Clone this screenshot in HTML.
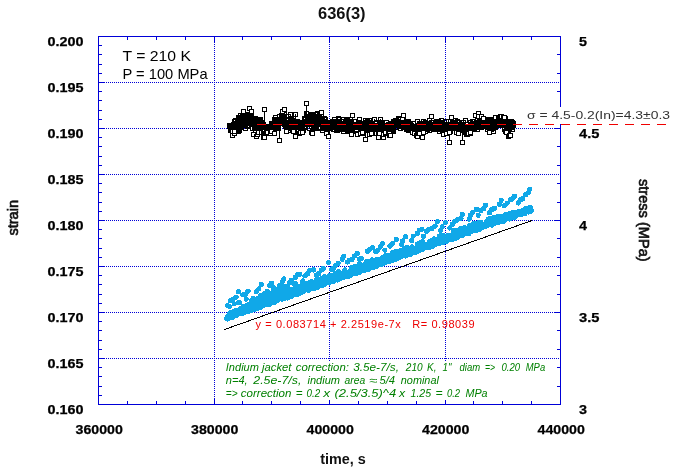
<!DOCTYPE html>
<html><head><meta charset="utf-8"><title>636(3)</title>
<style>html,body{margin:0;padding:0;background:#fff}svg{display:block}text{font-family:"Liberation Sans",sans-serif}.b{font-weight:bold;font-size:13px;fill:#000;stroke:#000;stroke-width:0.25px}</style></head><body>
<svg width="681" height="472" viewBox="0 0 681 472">
<rect width="681" height="472" fill="#fff"/>
<g stroke="#0000d8" stroke-width="1" shape-rendering="crispEdges" fill="none">
<line x1="98" y1="358.5" x2="560" y2="358.5" stroke-dasharray="1 1"/>
<line x1="98" y1="312.5" x2="560" y2="312.5" stroke-dasharray="1 1"/>
<line x1="98" y1="266.5" x2="560" y2="266.5" stroke-dasharray="1 1"/>
<line x1="98" y1="220.5" x2="560" y2="220.5" stroke-dasharray="1 1"/>
<line x1="98" y1="174.5" x2="560" y2="174.5" stroke-dasharray="1 1"/>
<line x1="98" y1="128.5" x2="560" y2="128.5" stroke-dasharray="1 1"/>
<line x1="98" y1="82.5" x2="560" y2="82.5" stroke-dasharray="1 1"/>
<line x1="214.5" y1="36" x2="214.5" y2="404" stroke-dasharray="1 1"/>
<line x1="329.5" y1="36" x2="329.5" y2="404" stroke-dasharray="1 1"/>
<line x1="445.5" y1="36" x2="445.5" y2="404" stroke-dasharray="1 1"/>
<rect x="98.5" y="36.5" width="462" height="368"/>
<line x1="127.5" y1="36" x2="127.5" y2="40"/><line x1="127.5" y1="405" x2="127.5" y2="401"/>
<line x1="156.5" y1="36" x2="156.5" y2="40"/><line x1="156.5" y1="405" x2="156.5" y2="401"/>
<line x1="185.5" y1="36" x2="185.5" y2="40"/><line x1="185.5" y1="405" x2="185.5" y2="401"/>
<line x1="214.5" y1="36" x2="214.5" y2="43"/><line x1="214.5" y1="405" x2="214.5" y2="398"/>
<line x1="242.5" y1="36" x2="242.5" y2="40"/><line x1="242.5" y1="405" x2="242.5" y2="401"/>
<line x1="271.5" y1="36" x2="271.5" y2="40"/><line x1="271.5" y1="405" x2="271.5" y2="401"/>
<line x1="300.5" y1="36" x2="300.5" y2="40"/><line x1="300.5" y1="405" x2="300.5" y2="401"/>
<line x1="329.5" y1="36" x2="329.5" y2="43"/><line x1="329.5" y1="405" x2="329.5" y2="398"/>
<line x1="358.5" y1="36" x2="358.5" y2="40"/><line x1="358.5" y1="405" x2="358.5" y2="401"/>
<line x1="387.5" y1="36" x2="387.5" y2="40"/><line x1="387.5" y1="405" x2="387.5" y2="401"/>
<line x1="416.5" y1="36" x2="416.5" y2="40"/><line x1="416.5" y1="405" x2="416.5" y2="401"/>
<line x1="445.5" y1="36" x2="445.5" y2="43"/><line x1="445.5" y1="405" x2="445.5" y2="398"/>
<line x1="473.5" y1="36" x2="473.5" y2="40"/><line x1="473.5" y1="405" x2="473.5" y2="401"/>
<line x1="502.5" y1="36" x2="502.5" y2="40"/><line x1="502.5" y1="405" x2="502.5" y2="401"/>
<line x1="531.5" y1="36" x2="531.5" y2="40"/><line x1="531.5" y1="405" x2="531.5" y2="401"/>
<line x1="98" y1="395.5" x2="102" y2="395.5"/>
<line x1="98" y1="386.5" x2="102" y2="386.5"/>
<line x1="98" y1="376.5" x2="102" y2="376.5"/>
<line x1="98" y1="367.5" x2="102" y2="367.5"/>
<line x1="98" y1="358.5" x2="105" y2="358.5"/>
<line x1="98" y1="349.5" x2="102" y2="349.5"/>
<line x1="98" y1="340.5" x2="102" y2="340.5"/>
<line x1="98" y1="330.5" x2="102" y2="330.5"/>
<line x1="98" y1="321.5" x2="102" y2="321.5"/>
<line x1="98" y1="312.5" x2="105" y2="312.5"/>
<line x1="98" y1="303.5" x2="102" y2="303.5"/>
<line x1="98" y1="294.5" x2="102" y2="294.5"/>
<line x1="98" y1="284.5" x2="102" y2="284.5"/>
<line x1="98" y1="275.5" x2="102" y2="275.5"/>
<line x1="98" y1="266.5" x2="105" y2="266.5"/>
<line x1="98" y1="257.5" x2="102" y2="257.5"/>
<line x1="98" y1="248.5" x2="102" y2="248.5"/>
<line x1="98" y1="238.5" x2="102" y2="238.5"/>
<line x1="98" y1="229.5" x2="102" y2="229.5"/>
<line x1="98" y1="220.5" x2="105" y2="220.5"/>
<line x1="98" y1="211.5" x2="102" y2="211.5"/>
<line x1="98" y1="202.5" x2="102" y2="202.5"/>
<line x1="98" y1="192.5" x2="102" y2="192.5"/>
<line x1="98" y1="183.5" x2="102" y2="183.5"/>
<line x1="98" y1="174.5" x2="105" y2="174.5"/>
<line x1="98" y1="165.5" x2="102" y2="165.5"/>
<line x1="98" y1="156.5" x2="102" y2="156.5"/>
<line x1="98" y1="146.5" x2="102" y2="146.5"/>
<line x1="98" y1="137.5" x2="102" y2="137.5"/>
<line x1="98" y1="128.5" x2="105" y2="128.5"/>
<line x1="98" y1="119.5" x2="102" y2="119.5"/>
<line x1="98" y1="110.5" x2="102" y2="110.5"/>
<line x1="98" y1="100.5" x2="102" y2="100.5"/>
<line x1="98" y1="91.5" x2="102" y2="91.5"/>
<line x1="98" y1="82.5" x2="105" y2="82.5"/>
<line x1="98" y1="73.5" x2="102" y2="73.5"/>
<line x1="98" y1="64.5" x2="102" y2="64.5"/>
<line x1="98" y1="54.5" x2="102" y2="54.5"/>
<line x1="98" y1="45.5" x2="102" y2="45.5"/>
<line x1="561" y1="386.5" x2="557" y2="386.5"/>
<line x1="561" y1="367.5" x2="557" y2="367.5"/>
<line x1="561" y1="349.5" x2="557" y2="349.5"/>
<line x1="561" y1="330.5" x2="557" y2="330.5"/>
<line x1="561" y1="312.5" x2="554" y2="312.5"/>
<line x1="561" y1="294.5" x2="557" y2="294.5"/>
<line x1="561" y1="275.5" x2="557" y2="275.5"/>
<line x1="561" y1="257.5" x2="557" y2="257.5"/>
<line x1="561" y1="238.5" x2="557" y2="238.5"/>
<line x1="561" y1="220.5" x2="554" y2="220.5"/>
<line x1="561" y1="202.5" x2="557" y2="202.5"/>
<line x1="561" y1="183.5" x2="557" y2="183.5"/>
<line x1="561" y1="165.5" x2="557" y2="165.5"/>
<line x1="561" y1="146.5" x2="557" y2="146.5"/>
<line x1="561" y1="128.5" x2="554" y2="128.5"/>
<line x1="561" y1="110.5" x2="557" y2="110.5"/>
<line x1="561" y1="91.5" x2="557" y2="91.5"/>
<line x1="561" y1="73.5" x2="557" y2="73.5"/>
<line x1="561" y1="54.5" x2="557" y2="54.5"/>
</g>
<g fill="#10a8e8" shape-rendering="crispEdges">
<circle cx="226.7" cy="318.8" r="2.6"/><circle cx="227.3" cy="319.0" r="2.6"/><circle cx="227.6" cy="317.4" r="2.6"/><circle cx="227.7" cy="316.6" r="2.6"/><circle cx="228.0" cy="316.9" r="2.6"/><circle cx="228.4" cy="318.4" r="2.6"/><circle cx="229.0" cy="314.6" r="2.6"/><circle cx="229.2" cy="317.5" r="2.6"/><circle cx="229.9" cy="313.6" r="2.6"/><circle cx="230.3" cy="316.3" r="2.6"/><circle cx="230.9" cy="317.8" r="2.6"/><circle cx="231.2" cy="316.5" r="2.6"/><circle cx="231.2" cy="317.4" r="2.6"/><circle cx="231.6" cy="313.7" r="2.6"/><circle cx="231.9" cy="314.8" r="2.6"/><circle cx="232.6" cy="315.6" r="2.6"/><circle cx="232.9" cy="317.0" r="2.6"/><circle cx="233.0" cy="316.3" r="2.6"/><circle cx="233.8" cy="314.9" r="2.6"/><circle cx="233.9" cy="314.0" r="2.6"/><circle cx="234.4" cy="315.3" r="2.6"/><circle cx="235.0" cy="313.1" r="2.6"/><circle cx="235.0" cy="313.7" r="2.6"/><circle cx="235.6" cy="312.0" r="2.6"/><circle cx="236.1" cy="314.8" r="2.6"/><circle cx="236.6" cy="315.4" r="2.6"/><circle cx="236.7" cy="312.2" r="2.6"/><circle cx="236.9" cy="313.5" r="2.6"/><circle cx="237.2" cy="312.5" r="2.6"/><circle cx="238.0" cy="312.6" r="2.6"/><circle cx="238.5" cy="313.8" r="2.6"/><circle cx="238.7" cy="312.3" r="2.6"/><circle cx="239.0" cy="312.9" r="2.6"/><circle cx="239.6" cy="310.2" r="2.6"/><circle cx="239.7" cy="311.6" r="2.6"/><circle cx="239.9" cy="311.3" r="2.6"/><circle cx="240.6" cy="309.6" r="2.6"/><circle cx="241.1" cy="313.0" r="2.6"/><circle cx="241.2" cy="311.0" r="2.6"/><circle cx="241.4" cy="312.0" r="2.6"/><circle cx="241.8" cy="313.6" r="2.6"/><circle cx="242.2" cy="310.2" r="2.6"/><circle cx="242.6" cy="312.7" r="2.6"/><circle cx="243.1" cy="309.3" r="2.6"/><circle cx="243.3" cy="311.4" r="2.6"/><circle cx="244.0" cy="309.0" r="2.6"/><circle cx="244.5" cy="308.9" r="2.6"/><circle cx="244.6" cy="311.1" r="2.6"/><circle cx="245.0" cy="308.6" r="2.6"/><circle cx="245.7" cy="312.0" r="2.6"/><circle cx="245.7" cy="311.6" r="2.6"/><circle cx="246.1" cy="310.2" r="2.6"/><circle cx="246.7" cy="311.1" r="2.6"/><circle cx="246.7" cy="310.3" r="2.6"/><circle cx="247.3" cy="309.4" r="2.6"/><circle cx="248.0" cy="308.5" r="2.6"/><circle cx="248.2" cy="308.8" r="2.6"/><circle cx="248.6" cy="311.5" r="2.6"/><circle cx="249.1" cy="307.7" r="2.6"/><circle cx="249.5" cy="307.4" r="2.6"/><circle cx="249.6" cy="309.4" r="2.6"/><circle cx="249.8" cy="308.2" r="2.6"/><circle cx="250.2" cy="310.9" r="2.6"/><circle cx="250.6" cy="310.2" r="2.6"/><circle cx="251.1" cy="310.6" r="2.6"/><circle cx="251.3" cy="310.1" r="2.6"/><circle cx="251.7" cy="308.8" r="2.6"/><circle cx="252.0" cy="306.2" r="2.6"/><circle cx="252.8" cy="309.5" r="2.6"/><circle cx="252.9" cy="308.5" r="2.6"/><circle cx="253.4" cy="309.4" r="2.6"/><circle cx="254.1" cy="304.9" r="2.6"/><circle cx="254.2" cy="307.3" r="2.6"/><circle cx="254.4" cy="309.2" r="2.6"/><circle cx="254.9" cy="308.2" r="2.6"/><circle cx="255.6" cy="308.5" r="2.6"/><circle cx="255.5" cy="304.6" r="2.6"/><circle cx="256.2" cy="308.3" r="2.6"/><circle cx="256.6" cy="308.8" r="2.6"/><circle cx="256.9" cy="303.9" r="2.6"/><circle cx="257.5" cy="305.1" r="2.6"/><circle cx="257.5" cy="306.8" r="2.6"/><circle cx="257.9" cy="304.6" r="2.6"/><circle cx="258.5" cy="304.4" r="2.6"/><circle cx="258.7" cy="307.1" r="2.6"/><circle cx="259.4" cy="303.0" r="2.6"/><circle cx="259.8" cy="303.8" r="2.6"/><circle cx="260.1" cy="304.0" r="2.6"/><circle cx="260.2" cy="305.1" r="2.6"/><circle cx="260.6" cy="307.3" r="2.6"/><circle cx="260.8" cy="306.0" r="2.6"/><circle cx="261.3" cy="303.8" r="2.6"/><circle cx="262.1" cy="304.7" r="2.6"/><circle cx="262.5" cy="301.9" r="2.6"/><circle cx="262.9" cy="304.9" r="2.6"/><circle cx="262.8" cy="305.6" r="2.6"/><circle cx="263.2" cy="305.6" r="2.6"/><circle cx="263.8" cy="301.9" r="2.6"/><circle cx="264.4" cy="303.8" r="2.6"/><circle cx="264.6" cy="302.1" r="2.6"/><circle cx="264.7" cy="302.8" r="2.6"/><circle cx="265.5" cy="301.8" r="2.6"/><circle cx="265.8" cy="303.3" r="2.6"/><circle cx="265.9" cy="301.7" r="2.6"/><circle cx="266.3" cy="301.5" r="2.6"/><circle cx="267.1" cy="303.2" r="2.6"/><circle cx="267.1" cy="300.5" r="2.6"/><circle cx="267.7" cy="304.1" r="2.6"/><circle cx="267.7" cy="304.2" r="2.6"/><circle cx="268.6" cy="300.6" r="2.6"/><circle cx="268.5" cy="300.6" r="2.6"/><circle cx="269.4" cy="301.1" r="2.6"/><circle cx="269.4" cy="301.6" r="2.6"/><circle cx="269.6" cy="304.2" r="2.6"/><circle cx="270.5" cy="300.7" r="2.6"/><circle cx="270.6" cy="299.3" r="2.6"/><circle cx="271.0" cy="299.5" r="2.6"/><circle cx="271.6" cy="302.6" r="2.6"/><circle cx="271.6" cy="302.1" r="2.6"/><circle cx="272.0" cy="300.5" r="2.6"/><circle cx="272.4" cy="301.2" r="2.6"/><circle cx="272.7" cy="298.7" r="2.6"/><circle cx="273.2" cy="300.7" r="2.6"/><circle cx="273.7" cy="298.3" r="2.6"/><circle cx="274.0" cy="298.2" r="2.6"/><circle cx="274.4" cy="299.9" r="2.6"/><circle cx="274.8" cy="302.4" r="2.6"/><circle cx="275.2" cy="301.4" r="2.6"/><circle cx="275.3" cy="298.3" r="2.6"/><circle cx="275.8" cy="299.8" r="2.6"/><circle cx="276.5" cy="299.1" r="2.6"/><circle cx="276.6" cy="299.2" r="2.6"/><circle cx="277.1" cy="297.7" r="2.6"/><circle cx="277.3" cy="298.8" r="2.6"/><circle cx="277.7" cy="300.1" r="2.6"/><circle cx="278.4" cy="298.7" r="2.6"/><circle cx="278.7" cy="297.3" r="2.6"/><circle cx="279.3" cy="298.7" r="2.6"/><circle cx="279.5" cy="298.3" r="2.6"/><circle cx="279.8" cy="297.2" r="2.6"/><circle cx="280.1" cy="297.9" r="2.6"/><circle cx="280.5" cy="295.7" r="2.6"/><circle cx="281.0" cy="295.9" r="2.6"/><circle cx="281.6" cy="298.8" r="2.6"/><circle cx="281.7" cy="295.3" r="2.6"/><circle cx="282.3" cy="299.1" r="2.6"/><circle cx="282.2" cy="297.6" r="2.6"/><circle cx="282.6" cy="298.5" r="2.6"/><circle cx="282.9" cy="296.2" r="2.6"/><circle cx="283.8" cy="294.8" r="2.6"/><circle cx="283.8" cy="295.7" r="2.6"/><circle cx="284.4" cy="298.3" r="2.6"/><circle cx="285.0" cy="294.0" r="2.6"/><circle cx="284.9" cy="294.1" r="2.6"/><circle cx="285.4" cy="296.3" r="2.6"/><circle cx="286.2" cy="294.3" r="2.6"/><circle cx="286.0" cy="296.3" r="2.6"/><circle cx="286.6" cy="296.6" r="2.6"/><circle cx="286.8" cy="296.6" r="2.6"/><circle cx="287.5" cy="297.9" r="2.6"/><circle cx="287.8" cy="295.7" r="2.6"/><circle cx="287.9" cy="296.2" r="2.6"/><circle cx="288.6" cy="295.0" r="2.6"/><circle cx="288.7" cy="292.6" r="2.6"/><circle cx="289.5" cy="292.4" r="2.6"/><circle cx="289.4" cy="296.0" r="2.6"/><circle cx="289.8" cy="293.3" r="2.6"/><circle cx="290.3" cy="296.3" r="2.6"/><circle cx="290.8" cy="292.2" r="2.6"/><circle cx="291.4" cy="295.3" r="2.6"/><circle cx="291.4" cy="292.0" r="2.6"/><circle cx="292.0" cy="292.9" r="2.6"/><circle cx="292.1" cy="296.0" r="2.6"/><circle cx="292.8" cy="293.9" r="2.6"/><circle cx="292.9" cy="291.4" r="2.6"/><circle cx="293.6" cy="291.8" r="2.6"/><circle cx="293.6" cy="291.5" r="2.6"/><circle cx="294.0" cy="291.4" r="2.6"/><circle cx="294.6" cy="293.8" r="2.6"/><circle cx="295.0" cy="290.7" r="2.6"/><circle cx="295.3" cy="294.6" r="2.6"/><circle cx="295.8" cy="293.8" r="2.6"/><circle cx="295.9" cy="294.2" r="2.6"/><circle cx="296.3" cy="293.9" r="2.6"/><circle cx="296.8" cy="293.1" r="2.6"/><circle cx="297.5" cy="293.0" r="2.6"/><circle cx="297.7" cy="293.5" r="2.6"/><circle cx="298.0" cy="294.2" r="2.6"/><circle cx="298.3" cy="294.1" r="2.6"/><circle cx="299.0" cy="291.1" r="2.6"/><circle cx="299.0" cy="291.5" r="2.6"/><circle cx="299.9" cy="293.1" r="2.6"/><circle cx="300.2" cy="291.3" r="2.6"/><circle cx="300.3" cy="289.2" r="2.6"/><circle cx="300.7" cy="290.8" r="2.6"/><circle cx="301.2" cy="288.2" r="2.6"/><circle cx="301.4" cy="288.9" r="2.6"/><circle cx="302.0" cy="289.6" r="2.6"/><circle cx="302.2" cy="291.0" r="2.6"/><circle cx="302.4" cy="292.0" r="2.6"/><circle cx="302.8" cy="288.9" r="2.6"/><circle cx="303.3" cy="291.6" r="2.6"/><circle cx="303.5" cy="288.1" r="2.6"/><circle cx="304.4" cy="288.6" r="2.6"/><circle cx="304.4" cy="290.8" r="2.6"/><circle cx="304.8" cy="289.5" r="2.6"/><circle cx="305.1" cy="289.5" r="2.6"/><circle cx="305.5" cy="286.8" r="2.6"/><circle cx="306.4" cy="288.6" r="2.6"/><circle cx="306.3" cy="286.5" r="2.6"/><circle cx="306.7" cy="289.4" r="2.6"/><circle cx="306.9" cy="289.2" r="2.6"/><circle cx="307.6" cy="288.3" r="2.6"/><circle cx="307.8" cy="288.3" r="2.6"/><circle cx="308.1" cy="289.4" r="2.6"/><circle cx="308.5" cy="288.5" r="2.6"/><circle cx="308.8" cy="290.3" r="2.6"/><circle cx="309.4" cy="289.0" r="2.6"/><circle cx="309.9" cy="287.4" r="2.6"/><circle cx="310.4" cy="286.6" r="2.6"/><circle cx="310.8" cy="285.3" r="2.6"/><circle cx="311.0" cy="288.0" r="2.6"/><circle cx="311.7" cy="288.6" r="2.6"/><circle cx="311.9" cy="286.1" r="2.6"/><circle cx="311.9" cy="285.1" r="2.6"/><circle cx="312.8" cy="285.9" r="2.6"/><circle cx="313.1" cy="284.8" r="2.6"/><circle cx="313.1" cy="286.3" r="2.6"/><circle cx="313.7" cy="284.5" r="2.6"/><circle cx="314.3" cy="284.4" r="2.6"/><circle cx="314.5" cy="283.9" r="2.6"/><circle cx="314.9" cy="284.8" r="2.6"/><circle cx="315.1" cy="288.0" r="2.6"/><circle cx="315.4" cy="286.3" r="2.6"/><circle cx="315.7" cy="283.8" r="2.6"/><circle cx="316.4" cy="284.6" r="2.6"/><circle cx="316.8" cy="284.2" r="2.6"/><circle cx="317.1" cy="287.5" r="2.6"/><circle cx="317.7" cy="283.5" r="2.6"/><circle cx="317.9" cy="284.5" r="2.6"/><circle cx="318.4" cy="286.7" r="2.6"/><circle cx="318.8" cy="285.6" r="2.6"/><circle cx="318.8" cy="285.6" r="2.6"/><circle cx="319.5" cy="285.6" r="2.6"/><circle cx="319.9" cy="281.6" r="2.6"/><circle cx="320.2" cy="284.5" r="2.6"/><circle cx="320.5" cy="282.8" r="2.6"/><circle cx="321.1" cy="283.0" r="2.6"/><circle cx="321.4" cy="285.6" r="2.6"/><circle cx="321.5" cy="284.7" r="2.6"/><circle cx="322.2" cy="284.1" r="2.6"/><circle cx="322.5" cy="285.5" r="2.6"/><circle cx="322.6" cy="284.2" r="2.6"/><circle cx="323.3" cy="281.8" r="2.6"/><circle cx="323.7" cy="283.7" r="2.6"/><circle cx="324.0" cy="282.7" r="2.6"/><circle cx="324.3" cy="284.3" r="2.6"/><circle cx="325.0" cy="283.7" r="2.6"/><circle cx="325.4" cy="279.8" r="2.6"/><circle cx="325.2" cy="282.3" r="2.6"/><circle cx="326.1" cy="279.5" r="2.6"/><circle cx="326.2" cy="282.9" r="2.6"/><circle cx="326.5" cy="279.4" r="2.6"/><circle cx="326.9" cy="281.1" r="2.6"/><circle cx="327.2" cy="281.3" r="2.6"/><circle cx="328.1" cy="282.9" r="2.6"/><circle cx="328.4" cy="280.9" r="2.6"/><circle cx="328.8" cy="279.8" r="2.6"/><circle cx="328.8" cy="278.8" r="2.6"/><circle cx="329.3" cy="283.0" r="2.6"/><circle cx="329.4" cy="280.7" r="2.6"/><circle cx="330.0" cy="281.4" r="2.6"/><circle cx="330.2" cy="281.1" r="2.6"/><circle cx="330.7" cy="278.4" r="2.6"/><circle cx="330.9" cy="278.8" r="2.6"/><circle cx="331.8" cy="281.7" r="2.6"/><circle cx="332.2" cy="278.5" r="2.6"/><circle cx="332.6" cy="280.5" r="2.6"/><circle cx="332.7" cy="280.0" r="2.6"/><circle cx="333.4" cy="278.7" r="2.6"/><circle cx="333.4" cy="279.5" r="2.6"/><circle cx="333.8" cy="281.3" r="2.6"/><circle cx="334.0" cy="277.3" r="2.6"/><circle cx="334.5" cy="276.6" r="2.6"/><circle cx="334.9" cy="279.8" r="2.6"/><circle cx="335.4" cy="280.0" r="2.6"/><circle cx="335.7" cy="276.1" r="2.6"/><circle cx="336.4" cy="276.6" r="2.6"/><circle cx="336.6" cy="276.0" r="2.6"/><circle cx="337.2" cy="277.6" r="2.6"/><circle cx="337.5" cy="280.0" r="2.6"/><circle cx="337.8" cy="277.9" r="2.6"/><circle cx="338.2" cy="276.8" r="2.6"/><circle cx="338.3" cy="279.7" r="2.6"/><circle cx="339.1" cy="279.0" r="2.6"/><circle cx="339.2" cy="277.9" r="2.6"/><circle cx="339.5" cy="275.8" r="2.6"/><circle cx="340.3" cy="278.0" r="2.6"/><circle cx="340.5" cy="277.7" r="2.6"/><circle cx="340.8" cy="277.1" r="2.6"/><circle cx="340.9" cy="278.2" r="2.6"/><circle cx="341.3" cy="274.4" r="2.6"/><circle cx="341.9" cy="277.6" r="2.6"/><circle cx="342.5" cy="273.5" r="2.6"/><circle cx="342.6" cy="277.7" r="2.6"/><circle cx="342.9" cy="277.9" r="2.6"/><circle cx="343.3" cy="277.7" r="2.6"/><circle cx="343.6" cy="276.8" r="2.6"/><circle cx="344.2" cy="273.4" r="2.6"/><circle cx="344.7" cy="275.6" r="2.6"/><circle cx="344.9" cy="275.0" r="2.6"/><circle cx="345.2" cy="275.8" r="2.6"/><circle cx="345.4" cy="276.0" r="2.6"/><circle cx="346.4" cy="276.5" r="2.6"/><circle cx="346.5" cy="273.9" r="2.6"/><circle cx="347.1" cy="275.8" r="2.6"/><circle cx="347.1" cy="275.6" r="2.6"/><circle cx="347.5" cy="274.5" r="2.6"/><circle cx="348.3" cy="272.2" r="2.6"/><circle cx="348.6" cy="276.2" r="2.6"/><circle cx="348.5" cy="272.8" r="2.6"/><circle cx="349.4" cy="273.7" r="2.6"/><circle cx="349.6" cy="276.0" r="2.6"/><circle cx="349.8" cy="271.2" r="2.6"/><circle cx="350.5" cy="271.4" r="2.6"/><circle cx="350.9" cy="274.2" r="2.6"/><circle cx="350.8" cy="274.8" r="2.6"/><circle cx="351.4" cy="271.9" r="2.6"/><circle cx="352.1" cy="271.5" r="2.6"/><circle cx="352.3" cy="271.2" r="2.6"/><circle cx="352.5" cy="272.2" r="2.6"/><circle cx="352.7" cy="271.0" r="2.6"/><circle cx="353.2" cy="270.1" r="2.6"/><circle cx="353.8" cy="273.0" r="2.6"/><circle cx="353.9" cy="273.2" r="2.6"/><circle cx="354.6" cy="270.7" r="2.6"/><circle cx="354.6" cy="273.8" r="2.6"/><circle cx="355.2" cy="271.0" r="2.6"/><circle cx="355.5" cy="272.7" r="2.6"/><circle cx="356.1" cy="273.6" r="2.6"/><circle cx="356.3" cy="271.3" r="2.6"/><circle cx="357.0" cy="270.1" r="2.6"/><circle cx="357.4" cy="270.8" r="2.6"/><circle cx="357.4" cy="272.0" r="2.6"/><circle cx="358.2" cy="269.4" r="2.6"/><circle cx="358.2" cy="272.8" r="2.6"/><circle cx="358.7" cy="269.4" r="2.6"/><circle cx="359.0" cy="271.3" r="2.6"/><circle cx="359.5" cy="267.8" r="2.6"/><circle cx="359.6" cy="272.2" r="2.6"/><circle cx="360.1" cy="270.1" r="2.6"/><circle cx="360.7" cy="271.0" r="2.6"/><circle cx="361.1" cy="268.2" r="2.6"/><circle cx="361.3" cy="270.8" r="2.6"/><circle cx="362.0" cy="270.0" r="2.6"/><circle cx="362.3" cy="270.3" r="2.6"/><circle cx="362.3" cy="267.6" r="2.6"/><circle cx="362.7" cy="266.5" r="2.6"/><circle cx="363.2" cy="270.2" r="2.6"/><circle cx="363.4" cy="269.0" r="2.6"/><circle cx="364.1" cy="266.1" r="2.6"/><circle cx="364.2" cy="268.8" r="2.6"/><circle cx="364.6" cy="265.8" r="2.6"/><circle cx="364.9" cy="270.3" r="2.6"/><circle cx="365.3" cy="268.4" r="2.6"/><circle cx="366.1" cy="265.7" r="2.6"/><circle cx="366.4" cy="265.0" r="2.6"/><circle cx="366.9" cy="268.2" r="2.6"/><circle cx="366.9" cy="265.2" r="2.6"/><circle cx="367.6" cy="269.4" r="2.6"/><circle cx="367.9" cy="267.6" r="2.6"/><circle cx="368.1" cy="267.7" r="2.6"/><circle cx="368.4" cy="269.3" r="2.6"/><circle cx="368.8" cy="267.4" r="2.6"/><circle cx="369.6" cy="268.2" r="2.6"/><circle cx="370.0" cy="267.7" r="2.6"/><circle cx="370.0" cy="264.6" r="2.6"/><circle cx="370.7" cy="266.3" r="2.6"/><circle cx="370.6" cy="266.1" r="2.6"/><circle cx="371.2" cy="263.7" r="2.6"/><circle cx="371.4" cy="266.4" r="2.6"/><circle cx="372.2" cy="267.8" r="2.6"/><circle cx="372.3" cy="263.8" r="2.6"/><circle cx="372.9" cy="267.5" r="2.6"/><circle cx="372.9" cy="267.4" r="2.6"/><circle cx="373.8" cy="266.1" r="2.6"/><circle cx="374.1" cy="262.8" r="2.6"/><circle cx="374.2" cy="265.9" r="2.6"/><circle cx="374.9" cy="263.9" r="2.6"/><circle cx="374.9" cy="263.4" r="2.6"/><circle cx="375.3" cy="265.5" r="2.6"/><circle cx="375.5" cy="263.0" r="2.6"/><circle cx="376.4" cy="263.3" r="2.6"/><circle cx="376.8" cy="266.2" r="2.6"/><circle cx="376.8" cy="263.9" r="2.6"/><circle cx="377.6" cy="261.3" r="2.6"/><circle cx="377.6" cy="264.8" r="2.6"/><circle cx="378.1" cy="263.4" r="2.6"/><circle cx="378.7" cy="264.7" r="2.6"/><circle cx="379.0" cy="261.8" r="2.6"/><circle cx="379.4" cy="261.5" r="2.6"/><circle cx="379.7" cy="263.7" r="2.6"/><circle cx="379.9" cy="263.4" r="2.6"/><circle cx="380.6" cy="264.6" r="2.6"/><circle cx="380.6" cy="261.2" r="2.6"/><circle cx="381.0" cy="264.5" r="2.6"/><circle cx="381.2" cy="262.0" r="2.6"/><circle cx="381.8" cy="259.6" r="2.6"/><circle cx="382.5" cy="259.3" r="2.6"/><circle cx="382.5" cy="263.9" r="2.6"/><circle cx="382.8" cy="261.7" r="2.6"/><circle cx="383.6" cy="261.7" r="2.6"/><circle cx="383.7" cy="261.8" r="2.6"/><circle cx="384.3" cy="260.3" r="2.6"/><circle cx="384.7" cy="259.3" r="2.6"/><circle cx="385.1" cy="262.8" r="2.6"/><circle cx="385.5" cy="261.7" r="2.6"/><circle cx="385.8" cy="261.3" r="2.6"/><circle cx="386.2" cy="262.0" r="2.6"/><circle cx="386.3" cy="261.7" r="2.6"/><circle cx="386.7" cy="258.4" r="2.6"/><circle cx="387.3" cy="261.0" r="2.6"/><circle cx="387.6" cy="257.5" r="2.6"/><circle cx="388.0" cy="261.2" r="2.6"/><circle cx="388.6" cy="258.9" r="2.6"/><circle cx="389.1" cy="261.5" r="2.6"/><circle cx="389.1" cy="257.8" r="2.6"/><circle cx="389.7" cy="257.2" r="2.6"/><circle cx="389.6" cy="260.3" r="2.6"/><circle cx="390.1" cy="260.7" r="2.6"/><circle cx="391.0" cy="258.4" r="2.6"/><circle cx="391.3" cy="259.3" r="2.6"/><circle cx="391.7" cy="258.8" r="2.6"/><circle cx="391.7" cy="257.2" r="2.6"/><circle cx="392.5" cy="260.2" r="2.6"/><circle cx="392.6" cy="257.6" r="2.6"/><circle cx="392.8" cy="258.8" r="2.6"/><circle cx="393.1" cy="259.5" r="2.6"/><circle cx="393.6" cy="257.4" r="2.6"/><circle cx="394.2" cy="259.1" r="2.6"/><circle cx="394.2" cy="258.5" r="2.6"/><circle cx="395.0" cy="258.9" r="2.6"/><circle cx="395.1" cy="258.8" r="2.6"/><circle cx="395.8" cy="256.8" r="2.6"/><circle cx="395.7" cy="259.1" r="2.6"/><circle cx="396.3" cy="256.6" r="2.6"/><circle cx="396.9" cy="258.7" r="2.6"/><circle cx="397.0" cy="255.7" r="2.6"/><circle cx="397.5" cy="257.6" r="2.6"/><circle cx="397.8" cy="254.1" r="2.6"/><circle cx="398.2" cy="255.9" r="2.6"/><circle cx="398.6" cy="256.5" r="2.6"/><circle cx="399.3" cy="253.4" r="2.6"/><circle cx="399.4" cy="257.3" r="2.6"/><circle cx="400.0" cy="257.1" r="2.6"/><circle cx="399.9" cy="253.6" r="2.6"/><circle cx="400.5" cy="253.8" r="2.6"/><circle cx="400.9" cy="253.4" r="2.6"/><circle cx="401.3" cy="256.8" r="2.6"/><circle cx="401.4" cy="254.8" r="2.6"/><circle cx="402.2" cy="252.8" r="2.6"/><circle cx="402.2" cy="254.2" r="2.6"/><circle cx="402.8" cy="254.6" r="2.6"/><circle cx="403.0" cy="255.6" r="2.6"/><circle cx="403.6" cy="252.2" r="2.6"/><circle cx="403.8" cy="254.3" r="2.6"/><circle cx="404.6" cy="251.6" r="2.6"/><circle cx="404.6" cy="255.8" r="2.6"/><circle cx="405.4" cy="251.3" r="2.6"/><circle cx="405.5" cy="255.9" r="2.6"/><circle cx="406.2" cy="254.0" r="2.6"/><circle cx="406.5" cy="252.7" r="2.6"/><circle cx="406.9" cy="254.9" r="2.6"/><circle cx="407.2" cy="254.4" r="2.6"/><circle cx="407.4" cy="251.2" r="2.6"/><circle cx="408.0" cy="254.3" r="2.6"/><circle cx="408.0" cy="253.2" r="2.6"/><circle cx="408.6" cy="253.1" r="2.6"/><circle cx="408.7" cy="253.8" r="2.6"/><circle cx="409.5" cy="250.2" r="2.6"/><circle cx="409.5" cy="251.9" r="2.6"/><circle cx="410.3" cy="254.3" r="2.6"/><circle cx="410.7" cy="253.7" r="2.6"/><circle cx="410.9" cy="251.5" r="2.6"/><circle cx="411.3" cy="252.5" r="2.6"/><circle cx="411.6" cy="251.1" r="2.6"/><circle cx="412.0" cy="250.6" r="2.6"/><circle cx="412.4" cy="251.5" r="2.6"/><circle cx="412.5" cy="250.6" r="2.6"/><circle cx="413.2" cy="252.3" r="2.6"/><circle cx="413.7" cy="249.3" r="2.6"/><circle cx="413.9" cy="252.3" r="2.6"/><circle cx="414.3" cy="252.5" r="2.6"/><circle cx="414.5" cy="250.8" r="2.6"/><circle cx="414.8" cy="250.6" r="2.6"/><circle cx="415.5" cy="252.4" r="2.6"/><circle cx="415.9" cy="252.0" r="2.6"/><circle cx="416.3" cy="248.4" r="2.6"/><circle cx="416.6" cy="251.9" r="2.6"/><circle cx="417.0" cy="250.2" r="2.6"/><circle cx="417.6" cy="251.2" r="2.6"/><circle cx="417.9" cy="246.7" r="2.6"/><circle cx="418.3" cy="247.5" r="2.6"/><circle cx="418.3" cy="246.7" r="2.6"/><circle cx="418.9" cy="246.6" r="2.6"/><circle cx="419.5" cy="250.4" r="2.6"/><circle cx="419.8" cy="246.4" r="2.6"/><circle cx="419.8" cy="249.3" r="2.6"/><circle cx="420.6" cy="250.0" r="2.6"/><circle cx="421.0" cy="249.3" r="2.6"/><circle cx="421.4" cy="249.8" r="2.6"/><circle cx="421.5" cy="245.9" r="2.6"/><circle cx="421.7" cy="249.1" r="2.6"/><circle cx="422.3" cy="248.6" r="2.6"/><circle cx="422.4" cy="249.2" r="2.6"/><circle cx="422.9" cy="245.3" r="2.6"/><circle cx="423.6" cy="245.3" r="2.6"/><circle cx="423.6" cy="245.8" r="2.6"/><circle cx="424.0" cy="246.9" r="2.6"/><circle cx="424.7" cy="247.5" r="2.6"/><circle cx="425.2" cy="246.4" r="2.6"/><circle cx="425.4" cy="244.7" r="2.6"/><circle cx="425.5" cy="244.1" r="2.6"/><circle cx="426.2" cy="246.8" r="2.6"/><circle cx="426.7" cy="247.3" r="2.6"/><circle cx="427.2" cy="245.6" r="2.6"/><circle cx="427.2" cy="244.6" r="2.6"/><circle cx="427.6" cy="247.4" r="2.6"/><circle cx="428.2" cy="247.9" r="2.6"/><circle cx="428.6" cy="246.7" r="2.6"/><circle cx="428.9" cy="242.9" r="2.6"/><circle cx="429.2" cy="244.4" r="2.6"/><circle cx="429.4" cy="247.6" r="2.6"/><circle cx="429.6" cy="246.8" r="2.6"/><circle cx="430.4" cy="245.2" r="2.6"/><circle cx="430.7" cy="242.7" r="2.6"/><circle cx="430.8" cy="246.0" r="2.6"/><circle cx="431.5" cy="246.8" r="2.6"/><circle cx="431.5" cy="245.1" r="2.6"/><circle cx="432.0" cy="245.0" r="2.6"/><circle cx="432.4" cy="243.7" r="2.6"/><circle cx="433.0" cy="245.4" r="2.6"/><circle cx="433.4" cy="243.9" r="2.6"/><circle cx="433.5" cy="241.5" r="2.6"/><circle cx="434.0" cy="245.3" r="2.6"/><circle cx="434.3" cy="242.8" r="2.6"/><circle cx="435.1" cy="241.7" r="2.6"/><circle cx="435.2" cy="244.3" r="2.6"/><circle cx="435.4" cy="242.3" r="2.6"/><circle cx="436.1" cy="243.6" r="2.6"/><circle cx="436.5" cy="242.9" r="2.6"/><circle cx="437.0" cy="241.3" r="2.6"/><circle cx="437.0" cy="240.5" r="2.6"/><circle cx="437.3" cy="242.2" r="2.6"/><circle cx="437.9" cy="243.5" r="2.6"/><circle cx="438.0" cy="240.7" r="2.6"/><circle cx="438.4" cy="241.7" r="2.6"/><circle cx="439.3" cy="243.4" r="2.6"/><circle cx="439.3" cy="241.1" r="2.6"/><circle cx="439.8" cy="240.8" r="2.6"/><circle cx="440.4" cy="242.9" r="2.6"/><circle cx="440.5" cy="242.2" r="2.6"/><circle cx="440.7" cy="239.2" r="2.6"/><circle cx="441.5" cy="239.8" r="2.6"/><circle cx="441.4" cy="239.2" r="2.6"/><circle cx="442.3" cy="240.8" r="2.6"/><circle cx="442.6" cy="240.7" r="2.6"/><circle cx="442.7" cy="242.4" r="2.6"/><circle cx="443.1" cy="242.6" r="2.6"/><circle cx="443.5" cy="238.9" r="2.6"/><circle cx="444.1" cy="238.2" r="2.6"/><circle cx="444.5" cy="241.0" r="2.6"/><circle cx="444.8" cy="240.0" r="2.6"/><circle cx="445.3" cy="239.4" r="2.6"/><circle cx="445.4" cy="238.8" r="2.6"/><circle cx="446.2" cy="240.6" r="2.6"/><circle cx="446.5" cy="241.5" r="2.6"/><circle cx="446.6" cy="240.4" r="2.6"/><circle cx="447.2" cy="236.6" r="2.6"/><circle cx="447.6" cy="239.6" r="2.6"/><circle cx="448.1" cy="239.4" r="2.6"/><circle cx="448.1" cy="236.5" r="2.6"/><circle cx="448.7" cy="237.4" r="2.6"/><circle cx="449.1" cy="235.8" r="2.6"/><circle cx="449.3" cy="236.4" r="2.6"/><circle cx="449.9" cy="236.1" r="2.6"/><circle cx="450.1" cy="236.7" r="2.6"/><circle cx="450.5" cy="238.6" r="2.6"/><circle cx="450.7" cy="237.0" r="2.6"/><circle cx="451.0" cy="235.5" r="2.6"/><circle cx="451.4" cy="239.7" r="2.6"/><circle cx="451.8" cy="235.1" r="2.6"/><circle cx="452.3" cy="238.8" r="2.6"/><circle cx="452.5" cy="239.3" r="2.6"/><circle cx="453.3" cy="236.0" r="2.6"/><circle cx="453.7" cy="235.4" r="2.6"/><circle cx="453.7" cy="236.1" r="2.6"/><circle cx="454.2" cy="234.8" r="2.6"/><circle cx="454.9" cy="234.2" r="2.6"/><circle cx="454.8" cy="234.3" r="2.6"/><circle cx="455.7" cy="233.6" r="2.6"/><circle cx="455.6" cy="237.4" r="2.6"/><circle cx="456.0" cy="238.1" r="2.6"/><circle cx="456.8" cy="233.9" r="2.6"/><circle cx="457.1" cy="233.7" r="2.6"/><circle cx="457.4" cy="236.3" r="2.6"/><circle cx="457.5" cy="237.2" r="2.6"/><circle cx="458.3" cy="236.4" r="2.6"/><circle cx="458.4" cy="235.3" r="2.6"/><circle cx="458.6" cy="236.0" r="2.6"/><circle cx="459.1" cy="233.5" r="2.6"/><circle cx="459.6" cy="235.4" r="2.6"/><circle cx="460.3" cy="234.2" r="2.6"/><circle cx="460.6" cy="233.5" r="2.6"/><circle cx="460.5" cy="234.6" r="2.6"/><circle cx="461.1" cy="232.6" r="2.6"/><circle cx="461.5" cy="232.8" r="2.6"/><circle cx="462.0" cy="235.0" r="2.6"/><circle cx="462.5" cy="235.5" r="2.6"/><circle cx="462.9" cy="234.9" r="2.6"/><circle cx="462.8" cy="234.8" r="2.6"/><circle cx="463.6" cy="230.6" r="2.6"/><circle cx="463.5" cy="233.1" r="2.6"/><circle cx="464.2" cy="231.3" r="2.6"/><circle cx="464.4" cy="232.8" r="2.6"/><circle cx="464.9" cy="230.9" r="2.6"/><circle cx="465.2" cy="230.3" r="2.6"/><circle cx="465.6" cy="233.8" r="2.6"/><circle cx="466.3" cy="232.1" r="2.6"/><circle cx="466.3" cy="231.4" r="2.6"/><circle cx="466.6" cy="230.5" r="2.6"/><circle cx="467.4" cy="230.3" r="2.6"/><circle cx="467.7" cy="232.3" r="2.6"/><circle cx="468.0" cy="232.0" r="2.6"/><circle cx="468.7" cy="233.3" r="2.6"/><circle cx="469.0" cy="233.5" r="2.6"/><circle cx="469.0" cy="232.3" r="2.6"/><circle cx="469.8" cy="230.8" r="2.6"/><circle cx="469.9" cy="228.9" r="2.6"/><circle cx="470.2" cy="230.9" r="2.6"/><circle cx="470.7" cy="229.2" r="2.6"/><circle cx="471.2" cy="229.6" r="2.6"/><circle cx="471.4" cy="231.2" r="2.6"/><circle cx="471.6" cy="228.5" r="2.6"/><circle cx="472.3" cy="228.7" r="2.6"/><circle cx="472.4" cy="230.2" r="2.6"/><circle cx="473.2" cy="229.3" r="2.6"/><circle cx="473.1" cy="229.9" r="2.6"/><circle cx="474.0" cy="230.7" r="2.6"/><circle cx="473.9" cy="230.4" r="2.6"/><circle cx="474.6" cy="227.4" r="2.6"/><circle cx="474.7" cy="230.8" r="2.6"/><circle cx="475.1" cy="229.8" r="2.6"/><circle cx="475.7" cy="230.5" r="2.6"/><circle cx="475.9" cy="230.2" r="2.6"/><circle cx="476.7" cy="227.3" r="2.6"/><circle cx="476.6" cy="226.1" r="2.6"/><circle cx="476.9" cy="228.9" r="2.6"/><circle cx="477.9" cy="226.5" r="2.6"/><circle cx="478.1" cy="228.2" r="2.6"/><circle cx="478.1" cy="227.2" r="2.6"/><circle cx="478.5" cy="229.2" r="2.6"/><circle cx="479.0" cy="229.9" r="2.6"/><circle cx="479.4" cy="226.0" r="2.6"/><circle cx="480.0" cy="227.2" r="2.6"/><circle cx="480.3" cy="227.3" r="2.6"/><circle cx="480.4" cy="226.6" r="2.6"/><circle cx="480.9" cy="225.7" r="2.6"/><circle cx="481.6" cy="227.0" r="2.6"/><circle cx="481.8" cy="225.3" r="2.6"/><circle cx="482.1" cy="227.8" r="2.6"/><circle cx="482.7" cy="224.4" r="2.6"/><circle cx="483.1" cy="225.1" r="2.6"/><circle cx="483.5" cy="225.1" r="2.6"/><circle cx="483.7" cy="226.1" r="2.6"/><circle cx="483.9" cy="225.2" r="2.6"/><circle cx="484.2" cy="226.2" r="2.6"/><circle cx="485.0" cy="224.4" r="2.6"/><circle cx="485.3" cy="226.6" r="2.6"/><circle cx="485.5" cy="225.5" r="2.6"/><circle cx="486.0" cy="225.6" r="2.6"/><circle cx="486.4" cy="222.8" r="2.6"/><circle cx="486.5" cy="224.1" r="2.6"/><circle cx="487.3" cy="225.2" r="2.6"/><circle cx="487.5" cy="222.2" r="2.6"/><circle cx="487.6" cy="224.3" r="2.6"/><circle cx="488.0" cy="223.0" r="2.6"/><circle cx="488.9" cy="224.0" r="2.6"/><circle cx="488.8" cy="223.8" r="2.6"/><circle cx="489.4" cy="222.8" r="2.6"/><circle cx="489.8" cy="223.1" r="2.6"/><circle cx="490.3" cy="223.5" r="2.6"/><circle cx="490.5" cy="221.3" r="2.6"/><circle cx="490.7" cy="222.5" r="2.6"/><circle cx="491.2" cy="221.9" r="2.6"/><circle cx="491.4" cy="220.8" r="2.6"/><circle cx="492.0" cy="225.2" r="2.6"/><circle cx="492.3" cy="223.4" r="2.6"/><circle cx="492.5" cy="223.2" r="2.6"/><circle cx="493.1" cy="221.6" r="2.6"/><circle cx="493.5" cy="223.6" r="2.6"/><circle cx="493.8" cy="221.1" r="2.6"/><circle cx="494.6" cy="221.9" r="2.6"/><circle cx="494.5" cy="220.6" r="2.6"/><circle cx="495.0" cy="223.3" r="2.6"/><circle cx="495.3" cy="220.4" r="2.6"/><circle cx="496.0" cy="220.9" r="2.6"/><circle cx="496.2" cy="221.2" r="2.6"/><circle cx="496.5" cy="219.1" r="2.6"/><circle cx="496.9" cy="220.5" r="2.6"/><circle cx="497.6" cy="219.4" r="2.6"/><circle cx="497.7" cy="222.0" r="2.6"/><circle cx="498.2" cy="222.7" r="2.6"/><circle cx="498.7" cy="221.3" r="2.6"/><circle cx="499.1" cy="221.6" r="2.6"/><circle cx="499.2" cy="221.7" r="2.6"/><circle cx="499.6" cy="221.8" r="2.6"/><circle cx="499.8" cy="219.1" r="2.6"/><circle cx="500.3" cy="221.3" r="2.6"/><circle cx="500.7" cy="220.0" r="2.6"/><circle cx="501.2" cy="219.0" r="2.6"/><circle cx="501.7" cy="220.2" r="2.6"/><circle cx="502.2" cy="217.6" r="2.6"/><circle cx="502.1" cy="217.8" r="2.6"/><circle cx="503.0" cy="217.7" r="2.6"/><circle cx="502.9" cy="217.5" r="2.6"/><circle cx="503.6" cy="221.3" r="2.6"/><circle cx="503.6" cy="216.6" r="2.6"/><circle cx="504.3" cy="219.9" r="2.6"/><circle cx="504.4" cy="220.4" r="2.6"/><circle cx="504.8" cy="217.0" r="2.6"/><circle cx="505.3" cy="220.0" r="2.6"/><circle cx="506.0" cy="216.6" r="2.6"/><circle cx="505.9" cy="216.1" r="2.6"/><circle cx="506.6" cy="216.4" r="2.6"/><circle cx="507.0" cy="215.7" r="2.6"/><circle cx="507.5" cy="215.8" r="2.6"/><circle cx="507.5" cy="216.5" r="2.6"/><circle cx="508.1" cy="216.1" r="2.6"/><circle cx="508.4" cy="215.3" r="2.6"/><circle cx="508.8" cy="218.2" r="2.6"/><circle cx="509.0" cy="218.7" r="2.6"/><circle cx="509.6" cy="219.0" r="2.6"/><circle cx="509.9" cy="218.4" r="2.6"/><circle cx="510.3" cy="216.5" r="2.6"/><circle cx="510.7" cy="214.5" r="2.6"/><circle cx="510.8" cy="214.6" r="2.6"/><circle cx="511.5" cy="215.8" r="2.6"/><circle cx="512.0" cy="214.2" r="2.6"/><circle cx="512.2" cy="216.2" r="2.6"/><circle cx="512.9" cy="217.7" r="2.6"/><circle cx="513.1" cy="214.8" r="2.6"/><circle cx="513.1" cy="214.9" r="2.6"/><circle cx="513.9" cy="213.1" r="2.6"/><circle cx="514.0" cy="212.8" r="2.6"/><circle cx="514.5" cy="215.1" r="2.6"/><circle cx="515.2" cy="217.1" r="2.6"/><circle cx="515.4" cy="214.0" r="2.6"/><circle cx="515.6" cy="212.8" r="2.6"/><circle cx="516.0" cy="214.6" r="2.6"/><circle cx="516.5" cy="213.0" r="2.6"/><circle cx="516.6" cy="214.6" r="2.6"/><circle cx="517.2" cy="213.8" r="2.6"/><circle cx="517.8" cy="214.9" r="2.6"/><circle cx="518.2" cy="214.2" r="2.6"/><circle cx="518.3" cy="214.8" r="2.6"/><circle cx="518.7" cy="211.1" r="2.6"/><circle cx="519.2" cy="211.9" r="2.6"/><circle cx="519.4" cy="214.2" r="2.6"/><circle cx="519.7" cy="212.7" r="2.6"/><circle cx="520.3" cy="211.5" r="2.6"/><circle cx="520.4" cy="211.8" r="2.6"/><circle cx="521.2" cy="212.4" r="2.6"/><circle cx="521.1" cy="213.7" r="2.6"/><circle cx="521.5" cy="214.1" r="2.6"/><circle cx="522.4" cy="211.7" r="2.6"/><circle cx="522.6" cy="210.7" r="2.6"/><circle cx="523.2" cy="211.4" r="2.6"/><circle cx="523.4" cy="211.2" r="2.6"/><circle cx="523.8" cy="211.2" r="2.6"/><circle cx="524.2" cy="213.0" r="2.6"/><circle cx="524.5" cy="211.7" r="2.6"/><circle cx="525.0" cy="213.3" r="2.6"/><circle cx="525.0" cy="213.6" r="2.6"/><circle cx="525.7" cy="208.9" r="2.6"/><circle cx="526.1" cy="211.6" r="2.6"/><circle cx="526.5" cy="209.3" r="2.6"/><circle cx="526.8" cy="211.9" r="2.6"/><circle cx="527.0" cy="211.0" r="2.6"/><circle cx="527.4" cy="210.8" r="2.6"/><circle cx="528.0" cy="208.1" r="2.6"/><circle cx="528.0" cy="209.9" r="2.6"/><circle cx="528.4" cy="212.0" r="2.6"/><circle cx="529.2" cy="209.4" r="2.6"/><circle cx="529.6" cy="209.9" r="2.6"/><circle cx="529.5" cy="210.3" r="2.6"/><circle cx="530.2" cy="207.2" r="2.6"/><circle cx="530.8" cy="209.3" r="2.6"/><circle cx="530.9" cy="211.2" r="2.6"/><circle cx="531.4" cy="210.5" r="2.6"/><circle cx="275.2" cy="297.3" r="2.6"/><circle cx="231.4" cy="312.5" r="2.6"/><circle cx="266.3" cy="297.2" r="2.6"/><circle cx="256.3" cy="301.6" r="2.6"/><circle cx="268.4" cy="299.7" r="2.6"/><circle cx="444.4" cy="236.5" r="2.6"/><circle cx="448.6" cy="235.2" r="2.6"/><circle cx="244.9" cy="306.7" r="2.6"/><circle cx="442.6" cy="235.1" r="2.6"/><circle cx="447.5" cy="236.0" r="2.6"/><circle cx="417.3" cy="244.5" r="2.6"/><circle cx="367.3" cy="261.5" r="2.6"/><circle cx="305.7" cy="283.2" r="2.6"/><circle cx="443.7" cy="237.6" r="2.6"/><circle cx="234.4" cy="311.3" r="2.6"/><circle cx="473.6" cy="226.7" r="2.6"/><circle cx="322.7" cy="278.0" r="2.6"/><circle cx="279.5" cy="292.9" r="2.6"/><circle cx="374.9" cy="261.8" r="2.6"/><circle cx="339.5" cy="272.6" r="2.6"/><circle cx="360.7" cy="264.7" r="2.6"/><circle cx="273.2" cy="295.3" r="2.6"/><circle cx="338.3" cy="272.8" r="2.6"/><circle cx="417.7" cy="245.4" r="2.6"/><circle cx="344.9" cy="269.9" r="2.6"/><circle cx="511.6" cy="213.0" r="2.6"/><circle cx="398.9" cy="252.5" r="2.6"/><circle cx="248.1" cy="304.9" r="2.6"/><circle cx="439.6" cy="236.2" r="2.6"/><circle cx="328.9" cy="276.2" r="2.6"/><circle cx="477.7" cy="223.5" r="2.6"/><circle cx="322.0" cy="279.3" r="2.6"/><circle cx="494.7" cy="218.7" r="2.6"/><circle cx="434.1" cy="239.0" r="2.6"/><circle cx="497.0" cy="216.9" r="2.6"/><circle cx="314.4" cy="283.4" r="2.6"/><circle cx="308.4" cy="284.1" r="2.6"/><circle cx="404.8" cy="248.6" r="2.6"/><circle cx="494.5" cy="219.5" r="2.6"/><circle cx="478.3" cy="222.6" r="2.6"/><circle cx="488.4" cy="220.1" r="2.6"/><circle cx="311.6" cy="281.5" r="2.6"/><circle cx="470.5" cy="225.8" r="2.6"/><circle cx="502.3" cy="216.2" r="2.6"/><circle cx="255.3" cy="302.8" r="2.6"/><circle cx="467.6" cy="228.4" r="2.6"/><circle cx="453.6" cy="230.9" r="2.6"/><circle cx="299.7" cy="286.6" r="2.6"/><circle cx="431.9" cy="240.2" r="2.6"/><circle cx="291.6" cy="290.7" r="2.6"/><circle cx="453.8" cy="231.3" r="2.6"/><circle cx="367.0" cy="264.5" r="2.6"/><circle cx="470.4" cy="225.5" r="2.6"/><circle cx="299.4" cy="286.8" r="2.6"/><circle cx="497.3" cy="216.7" r="2.6"/><circle cx="385.5" cy="256.6" r="2.6"/><circle cx="405.6" cy="250.5" r="2.6"/><circle cx="287.3" cy="292.4" r="2.6"/><circle cx="438.9" cy="238.1" r="2.6"/><circle cx="398.2" cy="252.4" r="2.6"/><circle cx="384.1" cy="258.2" r="2.6"/><circle cx="243.3" cy="307.0" r="2.6"/><circle cx="341.5" cy="273.5" r="2.6"/><circle cx="418.6" cy="243.8" r="2.6"/><circle cx="276.5" cy="294.8" r="2.6"/><circle cx="332.8" cy="275.1" r="2.6"/><circle cx="236.1" cy="311.1" r="2.6"/><circle cx="488.1" cy="220.5" r="2.6"/><circle cx="399.0" cy="252.5" r="2.6"/><circle cx="462.2" cy="229.6" r="2.6"/><circle cx="512.1" cy="212.9" r="2.6"/><circle cx="474.0" cy="223.6" r="2.6"/><circle cx="305.7" cy="286.4" r="2.6"/><circle cx="289.9" cy="291.5" r="2.6"/><circle cx="254.9" cy="304.4" r="2.6"/><circle cx="396.1" cy="251.5" r="2.6"/><circle cx="366.6" cy="261.7" r="2.6"/><circle cx="501.2" cy="217.1" r="2.6"/><circle cx="408.2" cy="248.8" r="2.6"/><circle cx="265.7" cy="297.4" r="2.6"/><circle cx="306.6" cy="284.3" r="2.6"/><circle cx="420.9" cy="242.4" r="2.6"/><circle cx="429.6" cy="241.3" r="2.6"/><circle cx="363.6" cy="265.4" r="2.6"/><circle cx="296.1" cy="289.8" r="2.6"/><circle cx="306.2" cy="285.1" r="2.6"/><circle cx="499.0" cy="216.2" r="2.6"/><circle cx="479.5" cy="224.8" r="2.6"/><circle cx="464.3" cy="227.9" r="2.6"/><circle cx="422.7" cy="241.7" r="2.6"/><circle cx="246.6" cy="307.2" r="2.6"/><circle cx="455.0" cy="230.4" r="2.6"/><circle cx="431.7" cy="240.8" r="2.6"/><circle cx="406.3" cy="248.3" r="2.6"/><circle cx="261.4" cy="301.1" r="2.6"/><circle cx="306.6" cy="285.8" r="2.6"/><circle cx="373.4" cy="261.9" r="2.6"/><circle cx="301.1" cy="287.7" r="2.6"/><circle cx="431.9" cy="241.7" r="2.6"/><circle cx="443.7" cy="236.9" r="2.6"/><circle cx="240.7" cy="308.2" r="2.6"/><circle cx="295.7" cy="286.9" r="2.6"/><circle cx="488.3" cy="219.3" r="2.6"/><circle cx="271.6" cy="297.1" r="2.6"/><circle cx="258.9" cy="300.2" r="2.6"/><circle cx="481.0" cy="222.3" r="2.6"/><circle cx="364.8" cy="264.4" r="2.6"/><circle cx="475.3" cy="224.8" r="2.6"/><circle cx="417.2" cy="246.5" r="2.6"/><circle cx="296.1" cy="289.7" r="2.6"/><circle cx="442.7" cy="236.1" r="2.6"/><circle cx="273.1" cy="295.1" r="2.6"/><circle cx="309.4" cy="283.8" r="2.6"/><circle cx="276.4" cy="296.0" r="2.6"/><circle cx="480.2" cy="223.5" r="2.6"/><circle cx="280.0" cy="294.0" r="2.6"/><circle cx="324.8" cy="276.7" r="2.6"/><circle cx="264.0" cy="298.0" r="2.6"/><circle cx="246.9" cy="305.6" r="2.6"/><circle cx="429.1" cy="242.0" r="2.6"/><circle cx="372.3" cy="261.9" r="2.6"/><circle cx="306.8" cy="285.4" r="2.6"/><circle cx="338.6" cy="271.5" r="2.6"/><circle cx="505.7" cy="215.5" r="2.6"/><circle cx="316.2" cy="279.7" r="2.6"/><circle cx="247.1" cy="305.8" r="2.6"/><circle cx="317.5" cy="279.0" r="2.6"/><circle cx="234.8" cy="311.0" r="2.6"/><circle cx="331.6" cy="276.9" r="2.6"/><circle cx="230.6" cy="312.8" r="2.6"/><circle cx="386.9" cy="257.1" r="2.6"/><circle cx="359.7" cy="264.3" r="2.6"/><circle cx="295.0" cy="288.4" r="2.6"/><circle cx="271.1" cy="298.2" r="2.6"/><circle cx="459.6" cy="229.5" r="2.6"/><circle cx="288.6" cy="292.3" r="2.6"/><circle cx="256.1" cy="302.4" r="2.6"/><circle cx="377.7" cy="260.1" r="2.6"/><circle cx="291.4" cy="289.5" r="2.6"/><circle cx="440.9" cy="235.8" r="2.6"/><circle cx="403.7" cy="251.1" r="2.6"/><circle cx="249.6" cy="304.8" r="2.6"/><circle cx="351.6" cy="267.8" r="2.6"/><circle cx="246.5" cy="305.9" r="2.6"/><circle cx="329.9" cy="275.1" r="2.6"/><circle cx="487.6" cy="220.6" r="2.6"/><circle cx="234.6" cy="311.0" r="2.6"/><circle cx="372.0" cy="260.0" r="2.6"/><circle cx="309.3" cy="284.6" r="2.6"/><circle cx="477.8" cy="224.3" r="2.6"/><circle cx="278.7" cy="294.8" r="2.6"/><circle cx="407.3" cy="250.5" r="2.6"/><circle cx="384.9" cy="256.9" r="2.6"/><circle cx="383.7" cy="258.5" r="2.6"/><circle cx="442.9" cy="235.1" r="2.6"/><circle cx="487.9" cy="221.0" r="2.6"/><circle cx="441.9" cy="236.9" r="2.6"/><circle cx="453.9" cy="233.8" r="2.6"/><circle cx="490.1" cy="218.6" r="2.6"/><circle cx="377.5" cy="259.3" r="2.6"/><circle cx="388.1" cy="255.5" r="2.6"/><circle cx="236.2" cy="310.2" r="2.6"/><circle cx="296.7" cy="289.1" r="2.6"/><circle cx="260.6" cy="301.7" r="2.6"/><circle cx="473.5" cy="226.9" r="2.6"/><circle cx="258.7" cy="301.0" r="2.6"/><circle cx="288.1" cy="292.7" r="2.6"/><circle cx="408.6" cy="248.1" r="2.6"/><circle cx="385.8" cy="255.7" r="2.6"/><circle cx="260.7" cy="299.6" r="2.6"/><circle cx="443.7" cy="237.4" r="2.6"/><circle cx="266.7" cy="298.7" r="2.6"/><circle cx="379.2" cy="259.5" r="2.6"/><circle cx="266.4" cy="299.1" r="2.6"/><circle cx="270.8" cy="296.9" r="2.6"/><circle cx="486.6" cy="222.0" r="2.6"/><circle cx="400.7" cy="250.3" r="2.6"/><circle cx="279.0" cy="293.2" r="2.6"/><circle cx="509.4" cy="213.9" r="2.6"/><circle cx="355.3" cy="266.1" r="2.6"/><circle cx="386.6" cy="256.5" r="2.6"/><circle cx="510.5" cy="213.3" r="2.6"/><circle cx="330.9" cy="276.8" r="2.6"/><circle cx="329.9" cy="276.5" r="2.6"/><circle cx="469.7" cy="225.3" r="2.6"/><circle cx="472.9" cy="224.4" r="2.6"/><circle cx="246.0" cy="306.7" r="2.6"/><circle cx="508.4" cy="214.4" r="2.6"/><circle cx="355.8" cy="266.6" r="2.6"/><circle cx="338.6" cy="273.0" r="2.6"/><circle cx="250.6" cy="305.0" r="2.6"/><circle cx="380.4" cy="260.0" r="2.6"/><circle cx="271.5" cy="295.3" r="2.6"/><circle cx="461.4" cy="228.1" r="2.6"/><circle cx="418.7" cy="243.7" r="2.6"/><circle cx="493.5" cy="217.8" r="2.6"/><circle cx="240.2" cy="308.9" r="2.6"/><circle cx="309.2" cy="283.0" r="2.6"/><circle cx="311.5" cy="282.6" r="2.6"/><circle cx="505.5" cy="214.8" r="2.6"/><circle cx="304.7" cy="285.1" r="2.6"/><circle cx="359.2" cy="264.3" r="2.6"/><circle cx="315.7" cy="281.9" r="2.6"/><circle cx="423.0" cy="244.5" r="2.6"/><circle cx="407.1" cy="247.3" r="2.6"/><circle cx="383.1" cy="258.2" r="2.6"/><circle cx="369.0" cy="262.3" r="2.6"/><circle cx="274.2" cy="297.3" r="2.6"/><circle cx="269.1" cy="298.5" r="2.6"/><circle cx="351.2" cy="269.4" r="2.6"/><circle cx="302.5" cy="287.3" r="2.6"/><circle cx="392.8" cy="252.8" r="2.6"/><circle cx="411.8" cy="247.0" r="2.6"/><circle cx="423.8" cy="244.0" r="2.6"/><circle cx="441.7" cy="236.7" r="2.6"/><circle cx="393.3" cy="253.4" r="2.6"/><circle cx="369.8" cy="262.8" r="2.6"/><circle cx="302.2" cy="287.0" r="2.6"/><circle cx="382.7" cy="257.9" r="2.6"/><circle cx="404.5" cy="251.4" r="2.6"/><circle cx="335.1" cy="273.2" r="2.6"/><circle cx="301.1" cy="286.3" r="2.6"/><circle cx="376.4" cy="260.5" r="2.6"/><circle cx="304.1" cy="282.9" r="2.6"/><circle cx="287.7" cy="289.6" r="2.6"/><circle cx="234.1" cy="303.9" r="2.6"/><circle cx="262.4" cy="299.1" r="2.6"/><circle cx="258.5" cy="298.1" r="2.6"/><circle cx="284.9" cy="290.9" r="2.6"/><circle cx="246.1" cy="299.1" r="2.6"/><circle cx="285.1" cy="290.5" r="2.6"/><circle cx="254.6" cy="300.0" r="2.6"/><circle cx="280.3" cy="289.2" r="2.6"/><circle cx="293.6" cy="283.2" r="2.6"/><circle cx="268.4" cy="292.7" r="2.6"/><circle cx="285.5" cy="286.4" r="2.6"/><circle cx="265.1" cy="293.5" r="2.6"/><circle cx="282.8" cy="286.4" r="2.6"/><circle cx="238.7" cy="302.3" r="2.6"/><circle cx="229.3" cy="306.3" r="2.6"/><circle cx="273.5" cy="292.4" r="2.6"/><circle cx="302.2" cy="281.8" r="2.6"/><circle cx="260.8" cy="295.1" r="2.6"/><circle cx="295.3" cy="283.9" r="2.6"/><circle cx="257.8" cy="298.2" r="2.6"/><circle cx="263.8" cy="294.4" r="2.6"/><circle cx="251.3" cy="301.0" r="2.6"/><circle cx="227.6" cy="305.5" r="2.6"/><circle cx="230.1" cy="300.7" r="2.6"/><circle cx="232.3" cy="299.9" r="2.6"/><circle cx="236.0" cy="297.1" r="2.6"/><circle cx="238.5" cy="291.7" r="2.6"/><circle cx="239.6" cy="302.9" r="2.6"/><circle cx="243.0" cy="294.8" r="2.6"/><circle cx="245.7" cy="294.2" r="2.6"/><circle cx="248.0" cy="291.1" r="2.6"/><circle cx="253.2" cy="298.5" r="2.6"/><circle cx="256.1" cy="291.9" r="2.6"/><circle cx="258.8" cy="289.0" r="2.6"/><circle cx="261.2" cy="284.4" r="2.6"/><circle cx="267.1" cy="291.2" r="2.6"/><circle cx="269.8" cy="285.6" r="2.6"/><circle cx="271.5" cy="283.2" r="2.6"/><circle cx="273.5" cy="287.9" r="2.6"/><circle cx="277.0" cy="289.6" r="2.6"/><circle cx="279.8" cy="285.4" r="2.6"/><circle cx="282.5" cy="281.6" r="2.6"/><circle cx="283.9" cy="278.9" r="2.6"/><circle cx="287.1" cy="286.2" r="2.6"/><circle cx="289.5" cy="282.8" r="2.6"/><circle cx="291.5" cy="280.3" r="2.6"/><circle cx="295.4" cy="277.3" r="2.6"/><circle cx="297.9" cy="274.6" r="2.6"/><circle cx="299.7" cy="274.2" r="2.6"/><circle cx="302.8" cy="281.0" r="2.6"/><circle cx="305.0" cy="275.9" r="2.6"/><circle cx="307.7" cy="273.6" r="2.6"/><circle cx="309.6" cy="270.4" r="2.6"/><circle cx="313.5" cy="269.9" r="2.6"/><circle cx="316.4" cy="275.2" r="2.6"/><circle cx="318.5" cy="273.8" r="2.6"/><circle cx="321.4" cy="270.0" r="2.6"/><circle cx="323.1" cy="268.5" r="2.6"/><circle cx="328.6" cy="262.5" r="2.6"/><circle cx="331.7" cy="269.5" r="2.6"/><circle cx="333.1" cy="268.5" r="2.6"/><circle cx="336.0" cy="265.2" r="2.6"/><circle cx="338.1" cy="263.3" r="2.6"/><circle cx="342.1" cy="259.3" r="2.6"/><circle cx="343.8" cy="256.1" r="2.6"/><circle cx="347.4" cy="262.0" r="2.6"/><circle cx="349.1" cy="260.2" r="2.6"/><circle cx="352.0" cy="259.5" r="2.6"/><circle cx="354.6" cy="256.0" r="2.6"/><circle cx="357.1" cy="253.5" r="2.6"/><circle cx="359.4" cy="259.3" r="2.6"/><circle cx="361.4" cy="258.4" r="2.6"/><circle cx="367.5" cy="251.3" r="2.6"/><circle cx="369.6" cy="249.5" r="2.6"/><circle cx="372.9" cy="247.7" r="2.6"/><circle cx="375.8" cy="251.8" r="2.6"/><circle cx="377.3" cy="250.6" r="2.6"/><circle cx="380.1" cy="247.0" r="2.6"/><circle cx="382.4" cy="243.8" r="2.6"/><circle cx="384.8" cy="250.1" r="2.6"/><circle cx="390.0" cy="246.0" r="2.6"/><circle cx="392.9" cy="243.1" r="2.6"/><circle cx="396.4" cy="239.5" r="2.6"/><circle cx="401.6" cy="244.3" r="2.6"/><circle cx="402.8" cy="240.9" r="2.6"/><circle cx="405.5" cy="236.9" r="2.6"/><circle cx="411.7" cy="240.5" r="2.6"/><circle cx="413.2" cy="236.1" r="2.6"/><circle cx="417.3" cy="233.5" r="2.6"/><circle cx="419.1" cy="230.1" r="2.6"/><circle cx="421.6" cy="229.3" r="2.6"/><circle cx="423.5" cy="236.3" r="2.6"/><circle cx="426.5" cy="231.3" r="2.6"/><circle cx="429.0" cy="229.1" r="2.6"/><circle cx="431.9" cy="228.5" r="2.6"/><circle cx="435.0" cy="226.1" r="2.6"/><circle cx="437.3" cy="221.8" r="2.6"/><circle cx="440.6" cy="230.4" r="2.6"/><circle cx="442.1" cy="226.7" r="2.6"/><circle cx="445.3" cy="222.7" r="2.6"/><circle cx="449.8" cy="228.0" r="2.6"/><circle cx="452.3" cy="224.3" r="2.6"/><circle cx="454.7" cy="221.2" r="2.6"/><circle cx="457.2" cy="220.0" r="2.6"/><circle cx="461.0" cy="218.2" r="2.6"/><circle cx="462.5" cy="214.4" r="2.6"/><circle cx="469.1" cy="219.0" r="2.6"/><circle cx="470.5" cy="215.3" r="2.6"/><circle cx="472.7" cy="212.3" r="2.6"/><circle cx="476.4" cy="209.1" r="2.6"/><circle cx="478.1" cy="215.3" r="2.6"/><circle cx="480.7" cy="210.9" r="2.6"/><circle cx="483.6" cy="208.9" r="2.6"/><circle cx="485.6" cy="205.1" r="2.6"/><circle cx="489.6" cy="212.9" r="2.6"/><circle cx="491.7" cy="209.5" r="2.6"/><circle cx="494.4" cy="208.2" r="2.6"/><circle cx="499.3" cy="204.2" r="2.6"/><circle cx="501.1" cy="200.3" r="2.6"/><circle cx="504.2" cy="205.7" r="2.6"/><circle cx="507.1" cy="203.1" r="2.6"/><circle cx="510.5" cy="199.9" r="2.6"/><circle cx="512.3" cy="198.8" r="2.6"/><circle cx="514.6" cy="196.2" r="2.6"/><circle cx="518.3" cy="203.0" r="2.6"/><circle cx="520.7" cy="199.6" r="2.6"/><circle cx="522.9" cy="198.4" r="2.6"/><circle cx="525.6" cy="194.6" r="2.6"/><circle cx="528.6" cy="192.4" r="2.6"/><circle cx="529.8" cy="189.2" r="2.6"/>
</g>
<line x1="224.5" y1="329.5" x2="532" y2="220.5" stroke="#000" stroke-width="1" shape-rendering="crispEdges"/>
<g stroke="#000" stroke-width="1" fill="none" shape-rendering="crispEdges">
<polyline points="229.5,126.5 229.5,125.5 230.5,130.5 230.5,130.5 230.5,129.5 230.5,127.5 231.5,127.5 231.5,126.5 231.5,128.5 232.5,126.5 232.5,131.5 232.5,129.5 232.5,135.5 233.5,124.5 233.5,128.5 233.5,128.5 234.5,133.5 234.5,124.5 234.5,121.5 234.5,131.5 235.5,120.5 235.5,129.5 235.5,123.5 236.5,126.5 236.5,125.5 236.5,123.5 236.5,126.5 237.5,124.5 237.5,121.5 237.5,129.5 238.5,131.5 238.5,117.5 238.5,125.5 238.5,122.5 239.5,123.5 239.5,118.5 239.5,130.5 240.5,115.5 240.5,126.5 240.5,123.5 240.5,126.5 241.5,127.5 241.5,117.5 241.5,124.5 242.5,123.5 242.5,123.5 242.5,116.5 242.5,118.5 243.5,111.5 243.5,114.5 243.5,125.5 243.5,117.5 244.5,114.5 244.5,117.5 244.5,120.5 245.5,128.5 245.5,120.5 245.5,121.5 245.5,116.5 246.5,117.5 246.5,121.5 246.5,114.5 247.5,125.5 247.5,120.5 247.5,120.5 247.5,126.5 248.5,117.5 248.5,117.5 248.5,123.5 249.5,118.5 249.5,114.5 249.5,108.5 249.5,123.5 250.5,121.5 250.5,116.5 250.5,117.5 251.5,113.5 251.5,111.5 251.5,119.5 251.5,122.5 252.5,128.5 252.5,118.5 252.5,123.5 253.5,123.5 253.5,134.5 253.5,119.5 253.5,119.5 254.5,119.5 254.5,127.5 254.5,118.5 255.5,122.5 255.5,118.5 255.5,121.5 255.5,118.5 256.5,136.5 256.5,123.5 256.5,121.5 257.5,120.5 257.5,128.5 257.5,124.5 257.5,134.5 258.5,119.5 258.5,122.5 258.5,132.5 259.5,119.5 259.5,125.5 259.5,121.5 259.5,128.5 260.5,125.5 260.5,119.5 260.5,125.5 261.5,132.5 261.5,132.5 261.5,128.5 261.5,124.5 262.5,122.5 262.5,123.5 262.5,128.5 263.5,131.5 263.5,124.5 263.5,124.5 263.5,137.5 264.5,137.5 264.5,131.5 264.5,109.5 265.5,133.5 265.5,128.5 265.5,128.5 265.5,127.5 266.5,130.5 266.5,127.5 266.5,132.5 267.5,130.5 267.5,126.5 267.5,128.5 267.5,132.5 268.5,130.5 268.5,130.5 268.5,129.5 269.5,126.5 269.5,128.5 269.5,130.5 269.5,128.5 270.5,128.5 270.5,129.5 270.5,133.5 271.5,130.5 271.5,123.5 271.5,131.5 271.5,124.5 272.5,128.5 272.5,124.5 272.5,128.5 272.5,124.5 273.5,129.5 273.5,123.5 273.5,124.5 274.5,133.5 274.5,119.5 274.5,126.5 274.5,121.5 275.5,120.5 275.5,119.5 275.5,117.5 276.5,126.5 276.5,123.5 276.5,127.5 276.5,121.5 277.5,128.5 277.5,121.5 277.5,119.5 278.5,121.5 278.5,128.5 278.5,125.5 278.5,123.5 279.5,120.5 279.5,140.5 279.5,116.5 280.5,123.5 280.5,121.5 280.5,123.5 280.5,121.5 281.5,120.5 281.5,117.5 281.5,115.5 282.5,120.5 282.5,121.5 282.5,111.5 282.5,116.5 283.5,116.5 283.5,118.5 283.5,118.5 284.5,109.5 284.5,114.5 284.5,117.5 284.5,124.5 285.5,126.5 285.5,126.5 285.5,124.5 286.5,125.5 286.5,116.5 286.5,131.5 286.5,123.5 287.5,125.5 287.5,120.5 287.5,123.5 288.5,116.5 288.5,124.5 288.5,125.5 288.5,119.5 289.5,130.5 289.5,124.5 289.5,124.5 290.5,128.5 290.5,114.5 290.5,121.5 290.5,118.5 291.5,118.5 291.5,123.5 291.5,119.5 292.5,120.5 292.5,123.5 292.5,129.5 292.5,123.5 293.5,122.5 293.5,131.5 293.5,124.5 294.5,127.5 294.5,130.5 294.5,123.5 294.5,130.5 295.5,114.5 295.5,126.5 295.5,136.5 296.5,124.5 296.5,121.5 296.5,131.5 296.5,124.5 297.5,129.5 297.5,124.5 297.5,121.5 298.5,127.5 298.5,122.5 298.5,127.5 298.5,127.5 299.5,126.5 299.5,127.5 299.5,133.5 300.5,132.5 300.5,123.5 300.5,125.5 300.5,129.5 301.5,123.5 301.5,122.5 301.5,124.5 301.5,122.5 302.5,132.5 302.5,126.5 302.5,125.5 303.5,123.5 303.5,124.5 303.5,130.5 303.5,122.5 304.5,121.5 304.5,118.5 304.5,127.5 305.5,123.5 305.5,119.5 305.5,126.5 305.5,119.5 306.5,103.5 306.5,113.5 306.5,122.5 307.5,116.5 307.5,121.5 307.5,123.5 307.5,120.5 308.5,121.5 308.5,120.5 308.5,121.5 309.5,119.5 309.5,128.5 309.5,121.5 309.5,124.5 310.5,116.5 310.5,115.5 310.5,115.5 311.5,119.5 311.5,114.5 311.5,122.5 311.5,132.5 312.5,133.5 312.5,130.5 312.5,123.5 313.5,119.5 313.5,117.5 313.5,115.5 313.5,116.5 314.5,116.5 314.5,122.5 314.5,128.5 315.5,119.5 315.5,126.5 315.5,117.5 315.5,127.5 316.5,114.5 316.5,119.5 316.5,124.5 317.5,122.5 317.5,113.5 317.5,116.5 317.5,117.5 318.5,127.5 318.5,128.5 318.5,117.5 319.5,124.5 319.5,120.5 319.5,114.5 319.5,118.5 320.5,124.5 320.5,122.5 320.5,118.5 321.5,121.5 321.5,116.5 321.5,112.5 321.5,119.5 322.5,130.5 322.5,127.5 322.5,125.5 323.5,121.5 323.5,128.5 323.5,124.5 323.5,121.5 324.5,118.5 324.5,128.5 324.5,121.5 325.5,121.5 325.5,119.5 325.5,126.5 325.5,126.5 326.5,133.5 326.5,129.5 326.5,129.5 327.5,126.5 327.5,125.5 327.5,122.5 327.5,131.5 328.5,124.5 328.5,128.5 328.5,124.5 328.5,136.5 329.5,122.5 329.5,125.5 329.5,128.5 330.5,123.5 330.5,128.5 330.5,127.5 330.5,125.5 331.5,125.5 331.5,125.5 331.5,125.5 332.5,121.5 332.5,127.5 332.5,125.5 332.5,122.5 333.5,129.5 333.5,123.5 333.5,121.5 334.5,122.5 334.5,119.5 334.5,119.5 334.5,125.5 335.5,122.5 335.5,126.5 335.5,125.5 336.5,125.5 336.5,126.5 336.5,130.5 336.5,126.5 337.5,128.5 337.5,130.5 337.5,129.5 338.5,124.5 338.5,118.5 338.5,125.5 338.5,126.5 339.5,122.5 339.5,124.5 339.5,119.5 340.5,126.5 340.5,129.5 340.5,127.5 340.5,126.5 341.5,126.5 341.5,121.5 341.5,129.5 342.5,129.5 342.5,125.5 342.5,125.5 342.5,129.5 343.5,125.5 343.5,131.5 343.5,119.5 344.5,127.5 344.5,124.5 344.5,129.5 344.5,124.5 345.5,126.5 345.5,127.5 345.5,126.5 346.5,128.5 346.5,120.5 346.5,127.5 346.5,121.5 347.5,126.5 347.5,126.5 347.5,119.5 348.5,122.5 348.5,130.5 348.5,125.5 348.5,131.5 349.5,128.5 349.5,129.5 349.5,122.5 350.5,131.5 350.5,126.5 350.5,123.5 350.5,122.5 351.5,121.5 351.5,134.5 351.5,128.5 352.5,115.5 352.5,130.5 352.5,126.5 352.5,125.5 353.5,126.5 353.5,131.5 353.5,126.5 354.5,125.5 354.5,130.5 354.5,121.5 354.5,129.5 355.5,126.5 355.5,121.5 355.5,129.5 356.5,128.5 356.5,130.5 356.5,129.5 356.5,131.5 357.5,129.5 357.5,133.5 357.5,129.5 357.5,134.5 358.5,122.5 358.5,127.5 358.5,123.5 359.5,126.5 359.5,119.5 359.5,119.5 359.5,124.5 360.5,123.5 360.5,133.5 360.5,124.5 361.5,130.5 361.5,126.5 361.5,123.5 361.5,126.5 362.5,133.5 362.5,132.5 362.5,130.5 363.5,123.5 363.5,131.5 363.5,125.5 363.5,127.5 364.5,123.5 364.5,128.5 364.5,125.5 365.5,139.5 365.5,129.5 365.5,128.5 365.5,120.5 366.5,130.5 366.5,122.5 366.5,125.5 367.5,121.5 367.5,127.5 367.5,126.5 367.5,128.5 368.5,124.5 368.5,127.5 368.5,127.5 369.5,123.5 369.5,134.5 369.5,122.5 369.5,120.5 370.5,125.5 370.5,129.5 370.5,124.5 371.5,132.5 371.5,123.5 371.5,127.5 371.5,133.5 372.5,126.5 372.5,130.5 372.5,129.5 373.5,130.5 373.5,129.5 373.5,128.5 373.5,127.5 374.5,119.5 374.5,125.5 374.5,126.5 375.5,126.5 375.5,127.5 375.5,126.5 375.5,123.5 376.5,131.5 376.5,122.5 376.5,133.5 377.5,131.5 377.5,130.5 377.5,128.5 377.5,131.5 378.5,134.5 378.5,137.5 378.5,131.5 379.5,130.5 379.5,126.5 379.5,128.5 379.5,133.5 380.5,123.5 380.5,128.5 380.5,119.5 381.5,128.5 381.5,128.5 381.5,122.5 381.5,125.5 382.5,128.5 382.5,125.5 382.5,124.5 383.5,137.5 383.5,134.5 383.5,127.5 383.5,127.5 384.5,126.5 384.5,129.5 384.5,125.5 385.5,133.5 385.5,131.5 385.5,127.5 385.5,132.5 386.5,130.5 386.5,122.5 386.5,126.5 386.5,127.5 387.5,130.5 387.5,126.5 387.5,125.5 388.5,128.5 388.5,124.5 388.5,125.5 388.5,133.5 389.5,135.5 389.5,133.5 389.5,129.5 390.5,126.5 390.5,128.5 390.5,123.5 390.5,135.5 391.5,131.5 391.5,131.5 391.5,127.5 392.5,131.5 392.5,129.5 392.5,128.5 392.5,130.5 393.5,121.5 393.5,127.5 393.5,131.5 394.5,122.5 394.5,124.5 394.5,121.5 394.5,125.5 395.5,127.5 395.5,120.5 395.5,121.5 396.5,121.5 396.5,122.5 396.5,122.5 396.5,127.5 397.5,123.5 397.5,123.5 397.5,123.5 398.5,123.5 398.5,125.5 398.5,119.5 398.5,118.5 399.5,122.5 399.5,122.5 399.5,119.5 400.5,128.5 400.5,126.5 400.5,118.5 400.5,125.5 401.5,122.5 401.5,122.5 401.5,125.5 402.5,120.5 402.5,120.5 402.5,118.5 402.5,121.5 403.5,120.5 403.5,127.5 403.5,115.5 404.5,124.5 404.5,126.5 404.5,125.5 404.5,123.5 405.5,127.5 405.5,125.5 405.5,123.5 406.5,126.5 406.5,129.5 406.5,127.5 406.5,121.5 407.5,123.5 407.5,129.5 407.5,127.5 408.5,126.5 408.5,122.5 408.5,121.5 408.5,130.5 409.5,127.5 409.5,125.5 409.5,128.5 410.5,126.5 410.5,124.5 410.5,129.5 410.5,129.5 411.5,125.5 411.5,129.5 411.5,129.5 412.5,130.5 412.5,132.5 412.5,131.5 412.5,129.5 413.5,130.5 413.5,130.5 413.5,123.5 414.5,130.5 414.5,127.5 414.5,127.5 414.5,133.5 415.5,131.5 415.5,129.5 415.5,128.5 415.5,129.5 416.5,126.5 416.5,135.5 416.5,129.5 417.5,134.5 417.5,125.5 417.5,136.5 417.5,121.5 418.5,128.5 418.5,133.5 418.5,128.5 419.5,130.5 419.5,131.5 419.5,130.5 419.5,133.5 420.5,123.5 420.5,124.5 420.5,127.5 421.5,127.5 421.5,125.5 421.5,127.5 421.5,125.5 422.5,131.5 422.5,137.5 422.5,124.5 423.5,126.5 423.5,121.5 423.5,131.5 423.5,132.5 424.5,126.5 424.5,125.5 424.5,129.5 425.5,123.5 425.5,131.5 425.5,122.5 425.5,123.5 426.5,123.5 426.5,126.5 426.5,123.5 427.5,124.5 427.5,129.5 427.5,126.5 427.5,127.5 428.5,125.5 428.5,127.5 428.5,126.5 429.5,128.5 429.5,128.5 429.5,120.5 429.5,130.5 430.5,128.5 430.5,127.5 430.5,125.5 431.5,116.5 431.5,122.5 431.5,127.5 431.5,126.5 432.5,126.5 432.5,124.5 432.5,125.5 433.5,122.5 433.5,122.5 433.5,126.5 433.5,125.5 434.5,127.5 434.5,129.5 434.5,126.5 435.5,128.5 435.5,126.5 435.5,122.5 435.5,123.5 436.5,121.5 436.5,122.5 436.5,123.5 437.5,129.5 437.5,126.5 437.5,125.5 437.5,127.5 438.5,121.5 438.5,125.5 438.5,126.5 439.5,127.5 439.5,124.5 439.5,131.5 439.5,124.5 440.5,127.5 440.5,128.5 440.5,122.5 441.5,125.5 441.5,126.5 441.5,120.5 441.5,123.5 442.5,126.5 442.5,127.5 442.5,125.5 442.5,130.5 443.5,127.5 443.5,127.5 443.5,134.5 444.5,124.5 444.5,129.5 444.5,129.5 444.5,129.5 445.5,126.5 445.5,125.5 445.5,126.5 446.5,126.5 446.5,133.5 446.5,121.5 446.5,128.5 447.5,124.5 447.5,129.5 447.5,124.5 448.5,127.5 448.5,121.5 448.5,127.5 448.5,125.5 449.5,132.5 449.5,142.5 449.5,126.5 450.5,124.5 450.5,126.5 450.5,131.5 450.5,129.5 451.5,128.5 451.5,117.5 451.5,125.5 452.5,122.5 452.5,123.5 452.5,127.5 452.5,122.5 453.5,127.5 453.5,128.5 453.5,123.5 454.5,122.5 454.5,120.5 454.5,122.5 454.5,127.5 455.5,126.5 455.5,120.5 455.5,125.5 456.5,124.5 456.5,125.5 456.5,124.5 456.5,132.5 457.5,124.5 457.5,122.5 457.5,121.5 458.5,125.5 458.5,126.5 458.5,122.5 458.5,133.5 459.5,129.5 459.5,128.5 459.5,129.5 460.5,125.5 460.5,130.5 460.5,128.5 460.5,126.5 461.5,125.5 461.5,128.5 461.5,124.5 462.5,125.5 462.5,124.5 462.5,125.5 462.5,142.5 463.5,128.5 463.5,127.5 463.5,122.5 464.5,127.5 464.5,127.5 464.5,127.5 464.5,129.5 465.5,120.5 465.5,129.5 465.5,132.5 466.5,127.5 466.5,129.5 466.5,133.5 466.5,134.5 467.5,134.5 467.5,131.5 467.5,129.5 468.5,128.5 468.5,130.5 468.5,133.5 468.5,129.5 469.5,128.5 469.5,129.5 469.5,129.5 470.5,133.5 470.5,130.5 470.5,132.5 470.5,122.5 471.5,124.5 471.5,127.5 471.5,126.5 471.5,125.5 472.5,124.5 472.5,127.5 472.5,121.5 473.5,125.5 473.5,123.5 473.5,126.5 473.5,129.5 474.5,126.5 474.5,128.5 474.5,124.5 475.5,127.5 475.5,115.5 475.5,127.5 475.5,125.5 476.5,123.5 476.5,124.5 476.5,124.5 477.5,120.5 477.5,129.5 477.5,123.5 477.5,127.5 478.5,113.5 478.5,116.5 478.5,122.5 479.5,119.5 479.5,124.5 479.5,121.5 479.5,126.5 480.5,122.5 480.5,122.5 480.5,123.5 481.5,127.5 481.5,127.5 481.5,120.5 481.5,116.5 482.5,125.5 482.5,124.5 482.5,120.5 483.5,121.5 483.5,119.5 483.5,126.5 483.5,118.5 484.5,121.5 484.5,125.5 484.5,120.5 485.5,126.5 485.5,126.5 485.5,121.5 485.5,119.5 486.5,119.5 486.5,126.5 486.5,124.5 487.5,125.5 487.5,127.5 487.5,122.5 487.5,129.5 488.5,123.5 488.5,127.5 488.5,126.5 489.5,132.5 489.5,130.5 489.5,125.5 489.5,125.5 490.5,124.5 490.5,124.5 490.5,124.5 491.5,121.5 491.5,120.5 491.5,119.5 491.5,129.5 492.5,128.5 492.5,124.5 492.5,120.5 493.5,125.5 493.5,124.5 493.5,131.5 493.5,124.5 494.5,126.5 494.5,123.5 494.5,125.5 495.5,124.5 495.5,117.5 495.5,125.5 495.5,127.5 496.5,122.5 496.5,123.5 496.5,125.5 497.5,123.5 497.5,120.5 497.5,120.5 497.5,119.5 498.5,122.5 498.5,118.5 498.5,120.5 499.5,118.5 499.5,125.5 499.5,122.5 499.5,120.5 500.5,116.5 500.5,124.5 500.5,118.5 500.5,121.5 501.5,117.5 501.5,121.5 501.5,116.5 502.5,119.5 502.5,124.5 502.5,120.5 502.5,120.5 503.5,117.5 503.5,117.5 503.5,122.5 504.5,117.5 504.5,121.5 504.5,129.5 504.5,122.5 505.5,131.5 505.5,118.5 505.5,124.5 506.5,122.5 506.5,132.5 506.5,128.5 506.5,130.5 507.5,130.5 507.5,126.5 507.5,130.5 508.5,136.5 508.5,124.5 508.5,128.5 508.5,128.5 509.5,129.5 509.5,135.5 509.5,122.5 510.5,125.5 510.5,135.5 510.5,126.5 510.5,121.5 511.5,127.5 511.5,121.5 511.5,125.5 512.5,125.5 512.5,129.5 512.5,123.5 512.5,122.5 513.5,123.5 513.5,125.5"/>
<path d="M227.5,124.5h4v4h-4zM227.5,123.5h4v4h-4zM228.5,128.5h4v4h-4zM228.5,128.5h4v4h-4zM228.5,127.5h4v4h-4zM228.5,125.5h4v4h-4zM229.5,125.5h4v4h-4zM229.5,124.5h4v4h-4zM229.5,126.5h4v4h-4zM230.5,124.5h4v4h-4zM230.5,127.5h4v4h-4zM231.5,122.5h4v4h-4zM231.5,126.5h4v4h-4zM231.5,126.5h4v4h-4zM232.5,122.5h4v4h-4zM232.5,119.5h4v4h-4zM233.5,118.5h4v4h-4zM233.5,127.5h4v4h-4zM233.5,121.5h4v4h-4zM234.5,124.5h4v4h-4zM234.5,123.5h4v4h-4zM234.5,121.5h4v4h-4zM234.5,124.5h4v4h-4zM235.5,122.5h4v4h-4zM235.5,119.5h4v4h-4zM235.5,127.5h4v4h-4zM236.5,129.5h4v4h-4zM236.5,115.5h4v4h-4zM236.5,123.5h4v4h-4zM236.5,120.5h4v4h-4zM237.5,121.5h4v4h-4zM237.5,116.5h4v4h-4zM237.5,128.5h4v4h-4zM238.5,113.5h4v4h-4zM238.5,124.5h4v4h-4zM238.5,121.5h4v4h-4zM238.5,124.5h4v4h-4zM239.5,125.5h4v4h-4zM239.5,115.5h4v4h-4zM239.5,122.5h4v4h-4zM240.5,121.5h4v4h-4zM240.5,121.5h4v4h-4zM240.5,114.5h4v4h-4zM240.5,116.5h4v4h-4zM241.5,112.5h4v4h-4zM241.5,123.5h4v4h-4zM241.5,115.5h4v4h-4zM242.5,112.5h4v4h-4zM242.5,115.5h4v4h-4zM242.5,118.5h4v4h-4zM243.5,126.5h4v4h-4zM243.5,118.5h4v4h-4zM243.5,119.5h4v4h-4zM243.5,114.5h4v4h-4zM244.5,115.5h4v4h-4zM244.5,119.5h4v4h-4zM244.5,112.5h4v4h-4zM245.5,123.5h4v4h-4zM245.5,118.5h4v4h-4zM245.5,118.5h4v4h-4zM245.5,124.5h4v4h-4zM246.5,115.5h4v4h-4zM246.5,115.5h4v4h-4zM246.5,121.5h4v4h-4zM247.5,116.5h4v4h-4zM247.5,112.5h4v4h-4zM247.5,121.5h4v4h-4zM248.5,119.5h4v4h-4zM248.5,114.5h4v4h-4zM248.5,115.5h4v4h-4zM249.5,111.5h4v4h-4zM249.5,117.5h4v4h-4zM249.5,120.5h4v4h-4zM250.5,126.5h4v4h-4zM250.5,116.5h4v4h-4zM250.5,121.5h4v4h-4zM251.5,121.5h4v4h-4zM251.5,117.5h4v4h-4zM251.5,117.5h4v4h-4zM252.5,117.5h4v4h-4zM252.5,125.5h4v4h-4zM252.5,116.5h4v4h-4zM253.5,120.5h4v4h-4zM253.5,116.5h4v4h-4zM253.5,119.5h4v4h-4zM253.5,116.5h4v4h-4zM254.5,121.5h4v4h-4zM254.5,119.5h4v4h-4zM255.5,118.5h4v4h-4zM255.5,126.5h4v4h-4zM255.5,122.5h4v4h-4zM256.5,117.5h4v4h-4zM256.5,120.5h4v4h-4zM257.5,117.5h4v4h-4zM257.5,123.5h4v4h-4zM257.5,119.5h4v4h-4zM257.5,126.5h4v4h-4zM258.5,123.5h4v4h-4zM258.5,117.5h4v4h-4zM258.5,123.5h4v4h-4zM259.5,126.5h4v4h-4zM259.5,122.5h4v4h-4zM260.5,120.5h4v4h-4zM260.5,121.5h4v4h-4zM260.5,126.5h4v4h-4zM261.5,122.5h4v4h-4zM261.5,122.5h4v4h-4zM263.5,126.5h4v4h-4zM263.5,126.5h4v4h-4zM263.5,125.5h4v4h-4zM264.5,128.5h4v4h-4zM264.5,125.5h4v4h-4zM265.5,128.5h4v4h-4zM265.5,124.5h4v4h-4zM265.5,126.5h4v4h-4zM266.5,128.5h4v4h-4zM266.5,128.5h4v4h-4zM266.5,127.5h4v4h-4zM267.5,124.5h4v4h-4zM267.5,126.5h4v4h-4zM267.5,128.5h4v4h-4zM267.5,126.5h4v4h-4zM268.5,126.5h4v4h-4zM268.5,127.5h4v4h-4zM269.5,128.5h4v4h-4zM269.5,121.5h4v4h-4zM269.5,122.5h4v4h-4zM270.5,126.5h4v4h-4zM270.5,122.5h4v4h-4zM270.5,126.5h4v4h-4zM270.5,122.5h4v4h-4zM271.5,127.5h4v4h-4zM271.5,121.5h4v4h-4zM271.5,122.5h4v4h-4zM272.5,117.5h4v4h-4zM272.5,124.5h4v4h-4zM272.5,119.5h4v4h-4zM273.5,118.5h4v4h-4zM273.5,117.5h4v4h-4zM273.5,115.5h4v4h-4zM274.5,124.5h4v4h-4zM274.5,121.5h4v4h-4zM274.5,125.5h4v4h-4zM274.5,119.5h4v4h-4zM275.5,126.5h4v4h-4zM275.5,119.5h4v4h-4zM275.5,117.5h4v4h-4zM276.5,119.5h4v4h-4zM276.5,126.5h4v4h-4zM276.5,123.5h4v4h-4zM276.5,121.5h4v4h-4zM277.5,118.5h4v4h-4zM277.5,114.5h4v4h-4zM278.5,121.5h4v4h-4zM278.5,119.5h4v4h-4zM278.5,121.5h4v4h-4zM278.5,119.5h4v4h-4zM279.5,118.5h4v4h-4zM279.5,115.5h4v4h-4zM279.5,113.5h4v4h-4zM280.5,118.5h4v4h-4zM280.5,119.5h4v4h-4zM280.5,114.5h4v4h-4zM281.5,114.5h4v4h-4zM281.5,116.5h4v4h-4zM281.5,116.5h4v4h-4zM282.5,112.5h4v4h-4zM282.5,115.5h4v4h-4zM282.5,122.5h4v4h-4zM283.5,124.5h4v4h-4zM283.5,124.5h4v4h-4zM283.5,122.5h4v4h-4zM284.5,123.5h4v4h-4zM284.5,114.5h4v4h-4zM284.5,121.5h4v4h-4zM285.5,123.5h4v4h-4zM285.5,118.5h4v4h-4zM285.5,121.5h4v4h-4zM286.5,114.5h4v4h-4zM286.5,122.5h4v4h-4zM286.5,123.5h4v4h-4zM286.5,117.5h4v4h-4zM287.5,128.5h4v4h-4zM287.5,122.5h4v4h-4zM287.5,122.5h4v4h-4zM288.5,126.5h4v4h-4zM288.5,112.5h4v4h-4zM288.5,119.5h4v4h-4zM288.5,116.5h4v4h-4zM289.5,116.5h4v4h-4zM289.5,121.5h4v4h-4zM289.5,117.5h4v4h-4zM290.5,118.5h4v4h-4zM290.5,121.5h4v4h-4zM290.5,127.5h4v4h-4zM290.5,121.5h4v4h-4zM291.5,120.5h4v4h-4zM291.5,122.5h4v4h-4zM292.5,125.5h4v4h-4zM292.5,128.5h4v4h-4zM292.5,121.5h4v4h-4zM292.5,128.5h4v4h-4zM293.5,112.5h4v4h-4zM293.5,124.5h4v4h-4zM294.5,122.5h4v4h-4zM294.5,119.5h4v4h-4zM294.5,129.5h4v4h-4zM294.5,122.5h4v4h-4zM295.5,127.5h4v4h-4zM295.5,122.5h4v4h-4zM295.5,119.5h4v4h-4zM296.5,125.5h4v4h-4zM296.5,120.5h4v4h-4zM296.5,125.5h4v4h-4zM296.5,125.5h4v4h-4zM297.5,124.5h4v4h-4zM297.5,125.5h4v4h-4zM298.5,121.5h4v4h-4zM298.5,123.5h4v4h-4zM298.5,127.5h4v4h-4zM299.5,121.5h4v4h-4zM299.5,120.5h4v4h-4zM299.5,122.5h4v4h-4zM299.5,120.5h4v4h-4zM300.5,124.5h4v4h-4zM300.5,123.5h4v4h-4zM301.5,121.5h4v4h-4zM301.5,122.5h4v4h-4zM301.5,128.5h4v4h-4zM301.5,120.5h4v4h-4zM302.5,119.5h4v4h-4zM302.5,116.5h4v4h-4zM302.5,125.5h4v4h-4zM303.5,121.5h4v4h-4zM303.5,117.5h4v4h-4zM303.5,124.5h4v4h-4zM303.5,117.5h4v4h-4zM304.5,111.5h4v4h-4zM304.5,120.5h4v4h-4zM305.5,114.5h4v4h-4zM305.5,119.5h4v4h-4zM305.5,121.5h4v4h-4zM305.5,118.5h4v4h-4zM306.5,119.5h4v4h-4zM306.5,118.5h4v4h-4zM306.5,119.5h4v4h-4zM307.5,117.5h4v4h-4zM307.5,126.5h4v4h-4zM307.5,119.5h4v4h-4zM307.5,122.5h4v4h-4zM308.5,114.5h4v4h-4zM308.5,113.5h4v4h-4zM308.5,113.5h4v4h-4zM309.5,117.5h4v4h-4zM309.5,112.5h4v4h-4zM309.5,120.5h4v4h-4zM310.5,128.5h4v4h-4zM310.5,121.5h4v4h-4zM311.5,117.5h4v4h-4zM311.5,115.5h4v4h-4zM311.5,113.5h4v4h-4zM311.5,114.5h4v4h-4zM312.5,114.5h4v4h-4zM312.5,120.5h4v4h-4zM312.5,126.5h4v4h-4zM313.5,117.5h4v4h-4zM313.5,124.5h4v4h-4zM313.5,115.5h4v4h-4zM313.5,125.5h4v4h-4zM314.5,112.5h4v4h-4zM314.5,117.5h4v4h-4zM314.5,122.5h4v4h-4zM315.5,120.5h4v4h-4zM315.5,111.5h4v4h-4zM315.5,114.5h4v4h-4zM315.5,115.5h4v4h-4zM316.5,125.5h4v4h-4zM316.5,126.5h4v4h-4zM316.5,115.5h4v4h-4zM317.5,122.5h4v4h-4zM317.5,118.5h4v4h-4zM317.5,112.5h4v4h-4zM317.5,116.5h4v4h-4zM318.5,122.5h4v4h-4zM318.5,120.5h4v4h-4zM318.5,116.5h4v4h-4zM319.5,119.5h4v4h-4zM319.5,114.5h4v4h-4zM319.5,117.5h4v4h-4zM320.5,128.5h4v4h-4zM320.5,125.5h4v4h-4zM320.5,123.5h4v4h-4zM321.5,119.5h4v4h-4zM321.5,126.5h4v4h-4zM321.5,122.5h4v4h-4zM321.5,119.5h4v4h-4zM322.5,116.5h4v4h-4zM322.5,126.5h4v4h-4zM322.5,119.5h4v4h-4zM323.5,119.5h4v4h-4zM323.5,117.5h4v4h-4zM323.5,124.5h4v4h-4zM323.5,124.5h4v4h-4zM324.5,127.5h4v4h-4zM324.5,127.5h4v4h-4zM325.5,124.5h4v4h-4zM325.5,123.5h4v4h-4zM325.5,120.5h4v4h-4zM325.5,129.5h4v4h-4zM326.5,122.5h4v4h-4zM326.5,126.5h4v4h-4zM326.5,122.5h4v4h-4zM327.5,120.5h4v4h-4zM327.5,123.5h4v4h-4zM327.5,126.5h4v4h-4zM328.5,121.5h4v4h-4zM328.5,126.5h4v4h-4zM328.5,125.5h4v4h-4zM328.5,123.5h4v4h-4zM329.5,123.5h4v4h-4zM329.5,123.5h4v4h-4zM329.5,123.5h4v4h-4zM330.5,119.5h4v4h-4zM330.5,125.5h4v4h-4zM330.5,123.5h4v4h-4zM330.5,120.5h4v4h-4zM331.5,127.5h4v4h-4zM331.5,121.5h4v4h-4zM331.5,119.5h4v4h-4zM332.5,120.5h4v4h-4zM332.5,117.5h4v4h-4zM332.5,117.5h4v4h-4zM332.5,123.5h4v4h-4zM333.5,120.5h4v4h-4zM333.5,124.5h4v4h-4zM333.5,123.5h4v4h-4zM334.5,123.5h4v4h-4zM334.5,124.5h4v4h-4zM334.5,128.5h4v4h-4zM334.5,124.5h4v4h-4zM335.5,126.5h4v4h-4zM335.5,128.5h4v4h-4zM335.5,127.5h4v4h-4zM336.5,122.5h4v4h-4zM336.5,116.5h4v4h-4zM336.5,123.5h4v4h-4zM336.5,124.5h4v4h-4zM337.5,120.5h4v4h-4zM337.5,122.5h4v4h-4zM337.5,117.5h4v4h-4zM338.5,124.5h4v4h-4zM338.5,127.5h4v4h-4zM338.5,125.5h4v4h-4zM338.5,124.5h4v4h-4zM339.5,124.5h4v4h-4zM339.5,119.5h4v4h-4zM339.5,127.5h4v4h-4zM340.5,127.5h4v4h-4zM340.5,123.5h4v4h-4zM340.5,123.5h4v4h-4zM340.5,127.5h4v4h-4zM341.5,123.5h4v4h-4zM341.5,129.5h4v4h-4zM341.5,117.5h4v4h-4zM342.5,125.5h4v4h-4zM342.5,122.5h4v4h-4zM342.5,127.5h4v4h-4zM342.5,122.5h4v4h-4zM343.5,124.5h4v4h-4zM343.5,125.5h4v4h-4zM343.5,124.5h4v4h-4zM344.5,126.5h4v4h-4zM344.5,118.5h4v4h-4zM344.5,125.5h4v4h-4zM344.5,119.5h4v4h-4zM345.5,124.5h4v4h-4zM345.5,124.5h4v4h-4zM345.5,117.5h4v4h-4zM346.5,120.5h4v4h-4zM346.5,128.5h4v4h-4zM346.5,123.5h4v4h-4zM346.5,129.5h4v4h-4zM347.5,126.5h4v4h-4zM347.5,127.5h4v4h-4zM347.5,120.5h4v4h-4zM348.5,129.5h4v4h-4zM348.5,124.5h4v4h-4zM348.5,121.5h4v4h-4zM348.5,120.5h4v4h-4zM349.5,119.5h4v4h-4zM349.5,126.5h4v4h-4zM350.5,128.5h4v4h-4zM350.5,124.5h4v4h-4zM350.5,123.5h4v4h-4zM351.5,124.5h4v4h-4zM351.5,129.5h4v4h-4zM351.5,124.5h4v4h-4zM352.5,123.5h4v4h-4zM352.5,128.5h4v4h-4zM352.5,119.5h4v4h-4zM352.5,127.5h4v4h-4zM353.5,124.5h4v4h-4zM353.5,119.5h4v4h-4zM353.5,127.5h4v4h-4zM354.5,126.5h4v4h-4zM354.5,128.5h4v4h-4zM354.5,127.5h4v4h-4zM355.5,127.5h4v4h-4zM355.5,127.5h4v4h-4zM356.5,120.5h4v4h-4zM356.5,125.5h4v4h-4zM356.5,121.5h4v4h-4zM357.5,124.5h4v4h-4zM357.5,117.5h4v4h-4zM357.5,117.5h4v4h-4zM357.5,122.5h4v4h-4zM358.5,121.5h4v4h-4zM358.5,122.5h4v4h-4zM359.5,128.5h4v4h-4zM359.5,124.5h4v4h-4zM359.5,121.5h4v4h-4zM359.5,124.5h4v4h-4zM360.5,128.5h4v4h-4zM361.5,121.5h4v4h-4zM361.5,129.5h4v4h-4zM361.5,123.5h4v4h-4zM361.5,125.5h4v4h-4zM362.5,121.5h4v4h-4zM362.5,126.5h4v4h-4zM362.5,123.5h4v4h-4zM363.5,127.5h4v4h-4zM363.5,126.5h4v4h-4zM363.5,118.5h4v4h-4zM364.5,128.5h4v4h-4zM364.5,120.5h4v4h-4zM364.5,123.5h4v4h-4zM365.5,119.5h4v4h-4zM365.5,125.5h4v4h-4zM365.5,124.5h4v4h-4zM365.5,126.5h4v4h-4zM366.5,122.5h4v4h-4zM366.5,125.5h4v4h-4zM366.5,125.5h4v4h-4zM367.5,121.5h4v4h-4zM367.5,120.5h4v4h-4zM367.5,118.5h4v4h-4zM368.5,123.5h4v4h-4zM368.5,127.5h4v4h-4zM368.5,122.5h4v4h-4zM369.5,121.5h4v4h-4zM369.5,125.5h4v4h-4zM370.5,124.5h4v4h-4zM370.5,128.5h4v4h-4zM370.5,127.5h4v4h-4zM371.5,128.5h4v4h-4zM371.5,127.5h4v4h-4zM371.5,126.5h4v4h-4zM371.5,125.5h4v4h-4zM372.5,117.5h4v4h-4zM372.5,123.5h4v4h-4zM372.5,124.5h4v4h-4zM373.5,124.5h4v4h-4zM373.5,125.5h4v4h-4zM373.5,124.5h4v4h-4zM373.5,121.5h4v4h-4zM374.5,129.5h4v4h-4zM374.5,120.5h4v4h-4zM375.5,129.5h4v4h-4zM375.5,128.5h4v4h-4zM375.5,126.5h4v4h-4zM375.5,129.5h4v4h-4zM376.5,129.5h4v4h-4zM377.5,128.5h4v4h-4zM377.5,124.5h4v4h-4zM377.5,126.5h4v4h-4zM378.5,121.5h4v4h-4zM378.5,126.5h4v4h-4zM378.5,117.5h4v4h-4zM379.5,126.5h4v4h-4zM379.5,126.5h4v4h-4zM379.5,120.5h4v4h-4zM379.5,123.5h4v4h-4zM380.5,126.5h4v4h-4zM380.5,123.5h4v4h-4zM380.5,122.5h4v4h-4zM381.5,125.5h4v4h-4zM381.5,125.5h4v4h-4zM382.5,124.5h4v4h-4zM382.5,127.5h4v4h-4zM382.5,123.5h4v4h-4zM383.5,129.5h4v4h-4zM383.5,125.5h4v4h-4zM384.5,128.5h4v4h-4zM384.5,120.5h4v4h-4zM384.5,124.5h4v4h-4zM384.5,125.5h4v4h-4zM385.5,128.5h4v4h-4zM385.5,124.5h4v4h-4zM385.5,123.5h4v4h-4zM386.5,126.5h4v4h-4zM386.5,122.5h4v4h-4zM386.5,123.5h4v4h-4zM387.5,127.5h4v4h-4zM388.5,124.5h4v4h-4zM388.5,126.5h4v4h-4zM388.5,121.5h4v4h-4zM389.5,129.5h4v4h-4zM389.5,129.5h4v4h-4zM389.5,125.5h4v4h-4zM390.5,129.5h4v4h-4zM390.5,127.5h4v4h-4zM390.5,126.5h4v4h-4zM390.5,128.5h4v4h-4zM391.5,119.5h4v4h-4zM391.5,125.5h4v4h-4zM391.5,129.5h4v4h-4zM392.5,120.5h4v4h-4zM392.5,122.5h4v4h-4zM392.5,119.5h4v4h-4zM392.5,123.5h4v4h-4zM393.5,125.5h4v4h-4zM393.5,118.5h4v4h-4zM393.5,119.5h4v4h-4zM394.5,119.5h4v4h-4zM394.5,120.5h4v4h-4zM394.5,120.5h4v4h-4zM394.5,125.5h4v4h-4zM395.5,121.5h4v4h-4zM395.5,121.5h4v4h-4zM395.5,121.5h4v4h-4zM396.5,121.5h4v4h-4zM396.5,123.5h4v4h-4zM396.5,117.5h4v4h-4zM396.5,116.5h4v4h-4zM397.5,120.5h4v4h-4zM397.5,120.5h4v4h-4zM397.5,117.5h4v4h-4zM398.5,126.5h4v4h-4zM398.5,124.5h4v4h-4zM398.5,116.5h4v4h-4zM398.5,123.5h4v4h-4zM399.5,120.5h4v4h-4zM399.5,120.5h4v4h-4zM399.5,123.5h4v4h-4zM400.5,118.5h4v4h-4zM400.5,118.5h4v4h-4zM400.5,119.5h4v4h-4zM401.5,118.5h4v4h-4zM401.5,125.5h4v4h-4zM402.5,122.5h4v4h-4zM402.5,124.5h4v4h-4zM402.5,123.5h4v4h-4zM402.5,121.5h4v4h-4zM403.5,125.5h4v4h-4zM403.5,123.5h4v4h-4zM403.5,121.5h4v4h-4zM404.5,124.5h4v4h-4zM404.5,127.5h4v4h-4zM404.5,125.5h4v4h-4zM404.5,119.5h4v4h-4zM405.5,121.5h4v4h-4zM405.5,127.5h4v4h-4zM405.5,125.5h4v4h-4zM406.5,124.5h4v4h-4zM406.5,120.5h4v4h-4zM406.5,119.5h4v4h-4zM406.5,128.5h4v4h-4zM407.5,125.5h4v4h-4zM407.5,123.5h4v4h-4zM407.5,126.5h4v4h-4zM408.5,124.5h4v4h-4zM408.5,122.5h4v4h-4zM408.5,127.5h4v4h-4zM408.5,127.5h4v4h-4zM409.5,123.5h4v4h-4zM409.5,127.5h4v4h-4zM409.5,127.5h4v4h-4zM410.5,128.5h4v4h-4zM410.5,129.5h4v4h-4zM410.5,127.5h4v4h-4zM411.5,128.5h4v4h-4zM411.5,128.5h4v4h-4zM411.5,121.5h4v4h-4zM412.5,128.5h4v4h-4zM412.5,125.5h4v4h-4zM412.5,125.5h4v4h-4zM413.5,129.5h4v4h-4zM413.5,127.5h4v4h-4zM413.5,126.5h4v4h-4zM413.5,127.5h4v4h-4zM414.5,124.5h4v4h-4zM414.5,127.5h4v4h-4zM415.5,123.5h4v4h-4zM415.5,119.5h4v4h-4zM416.5,126.5h4v4h-4zM416.5,126.5h4v4h-4zM417.5,128.5h4v4h-4zM417.5,129.5h4v4h-4zM417.5,128.5h4v4h-4zM418.5,121.5h4v4h-4zM418.5,122.5h4v4h-4zM418.5,125.5h4v4h-4zM419.5,125.5h4v4h-4zM419.5,123.5h4v4h-4zM419.5,125.5h4v4h-4zM419.5,123.5h4v4h-4zM420.5,129.5h4v4h-4zM420.5,122.5h4v4h-4zM421.5,124.5h4v4h-4zM421.5,119.5h4v4h-4zM421.5,129.5h4v4h-4zM422.5,124.5h4v4h-4zM422.5,123.5h4v4h-4zM422.5,127.5h4v4h-4zM423.5,121.5h4v4h-4zM423.5,129.5h4v4h-4zM423.5,120.5h4v4h-4zM423.5,121.5h4v4h-4zM424.5,121.5h4v4h-4zM424.5,124.5h4v4h-4zM424.5,121.5h4v4h-4zM425.5,122.5h4v4h-4zM425.5,127.5h4v4h-4zM425.5,124.5h4v4h-4zM425.5,125.5h4v4h-4zM426.5,123.5h4v4h-4zM426.5,125.5h4v4h-4zM426.5,124.5h4v4h-4zM427.5,126.5h4v4h-4zM427.5,126.5h4v4h-4zM427.5,118.5h4v4h-4zM427.5,128.5h4v4h-4zM428.5,126.5h4v4h-4zM428.5,125.5h4v4h-4zM428.5,123.5h4v4h-4zM429.5,120.5h4v4h-4zM429.5,125.5h4v4h-4zM429.5,124.5h4v4h-4zM430.5,124.5h4v4h-4zM430.5,122.5h4v4h-4zM430.5,123.5h4v4h-4zM431.5,120.5h4v4h-4zM431.5,120.5h4v4h-4zM431.5,124.5h4v4h-4zM431.5,123.5h4v4h-4zM432.5,125.5h4v4h-4zM432.5,127.5h4v4h-4zM432.5,124.5h4v4h-4zM433.5,126.5h4v4h-4zM433.5,124.5h4v4h-4zM433.5,120.5h4v4h-4zM433.5,121.5h4v4h-4zM434.5,119.5h4v4h-4zM434.5,120.5h4v4h-4zM434.5,121.5h4v4h-4zM435.5,127.5h4v4h-4zM435.5,124.5h4v4h-4zM435.5,123.5h4v4h-4zM435.5,125.5h4v4h-4zM436.5,119.5h4v4h-4zM436.5,123.5h4v4h-4zM436.5,124.5h4v4h-4zM437.5,125.5h4v4h-4zM437.5,122.5h4v4h-4zM437.5,129.5h4v4h-4zM437.5,122.5h4v4h-4zM438.5,125.5h4v4h-4zM438.5,126.5h4v4h-4zM438.5,120.5h4v4h-4zM439.5,123.5h4v4h-4zM439.5,124.5h4v4h-4zM439.5,118.5h4v4h-4zM439.5,121.5h4v4h-4zM440.5,124.5h4v4h-4zM440.5,125.5h4v4h-4zM440.5,123.5h4v4h-4zM440.5,128.5h4v4h-4zM441.5,125.5h4v4h-4zM441.5,125.5h4v4h-4zM442.5,122.5h4v4h-4zM442.5,127.5h4v4h-4zM442.5,127.5h4v4h-4zM442.5,127.5h4v4h-4zM443.5,124.5h4v4h-4zM443.5,123.5h4v4h-4zM443.5,124.5h4v4h-4zM444.5,124.5h4v4h-4zM444.5,119.5h4v4h-4zM444.5,126.5h4v4h-4zM445.5,122.5h4v4h-4zM445.5,127.5h4v4h-4zM445.5,122.5h4v4h-4zM446.5,125.5h4v4h-4zM446.5,119.5h4v4h-4zM446.5,125.5h4v4h-4zM446.5,123.5h4v4h-4zM447.5,124.5h4v4h-4zM448.5,122.5h4v4h-4zM448.5,124.5h4v4h-4zM448.5,129.5h4v4h-4zM448.5,127.5h4v4h-4zM449.5,126.5h4v4h-4zM449.5,123.5h4v4h-4zM450.5,120.5h4v4h-4zM450.5,121.5h4v4h-4zM450.5,125.5h4v4h-4zM450.5,120.5h4v4h-4zM451.5,125.5h4v4h-4zM451.5,126.5h4v4h-4zM451.5,121.5h4v4h-4zM452.5,120.5h4v4h-4zM452.5,118.5h4v4h-4zM452.5,120.5h4v4h-4zM452.5,125.5h4v4h-4zM453.5,124.5h4v4h-4zM453.5,118.5h4v4h-4zM453.5,123.5h4v4h-4zM454.5,122.5h4v4h-4zM454.5,123.5h4v4h-4zM454.5,122.5h4v4h-4zM455.5,122.5h4v4h-4zM455.5,120.5h4v4h-4zM455.5,119.5h4v4h-4zM456.5,123.5h4v4h-4zM456.5,124.5h4v4h-4zM456.5,120.5h4v4h-4zM457.5,127.5h4v4h-4zM457.5,126.5h4v4h-4zM457.5,127.5h4v4h-4zM458.5,123.5h4v4h-4zM458.5,128.5h4v4h-4zM458.5,126.5h4v4h-4zM458.5,124.5h4v4h-4zM459.5,123.5h4v4h-4zM459.5,126.5h4v4h-4zM459.5,122.5h4v4h-4zM460.5,123.5h4v4h-4zM460.5,122.5h4v4h-4zM460.5,123.5h4v4h-4zM461.5,126.5h4v4h-4zM461.5,125.5h4v4h-4zM461.5,120.5h4v4h-4zM462.5,125.5h4v4h-4zM462.5,125.5h4v4h-4zM462.5,125.5h4v4h-4zM462.5,127.5h4v4h-4zM463.5,118.5h4v4h-4zM463.5,127.5h4v4h-4zM464.5,125.5h4v4h-4zM464.5,127.5h4v4h-4zM465.5,129.5h4v4h-4zM465.5,127.5h4v4h-4zM466.5,126.5h4v4h-4zM466.5,128.5h4v4h-4zM466.5,127.5h4v4h-4zM467.5,126.5h4v4h-4zM467.5,127.5h4v4h-4zM467.5,127.5h4v4h-4zM468.5,128.5h4v4h-4zM468.5,120.5h4v4h-4zM469.5,122.5h4v4h-4zM469.5,125.5h4v4h-4zM469.5,124.5h4v4h-4zM469.5,123.5h4v4h-4zM470.5,122.5h4v4h-4zM470.5,125.5h4v4h-4zM470.5,119.5h4v4h-4zM471.5,123.5h4v4h-4zM471.5,121.5h4v4h-4zM471.5,124.5h4v4h-4zM471.5,127.5h4v4h-4zM472.5,124.5h4v4h-4zM472.5,126.5h4v4h-4zM472.5,122.5h4v4h-4zM473.5,125.5h4v4h-4zM473.5,125.5h4v4h-4zM473.5,123.5h4v4h-4zM474.5,121.5h4v4h-4zM474.5,122.5h4v4h-4zM474.5,122.5h4v4h-4zM475.5,118.5h4v4h-4zM475.5,127.5h4v4h-4zM475.5,121.5h4v4h-4zM475.5,125.5h4v4h-4zM476.5,120.5h4v4h-4zM477.5,117.5h4v4h-4zM477.5,122.5h4v4h-4zM477.5,119.5h4v4h-4zM477.5,124.5h4v4h-4zM478.5,120.5h4v4h-4zM478.5,120.5h4v4h-4zM478.5,121.5h4v4h-4zM479.5,125.5h4v4h-4zM479.5,125.5h4v4h-4zM479.5,118.5h4v4h-4zM480.5,123.5h4v4h-4zM480.5,122.5h4v4h-4zM480.5,118.5h4v4h-4zM481.5,119.5h4v4h-4zM481.5,117.5h4v4h-4zM481.5,124.5h4v4h-4zM482.5,119.5h4v4h-4zM482.5,123.5h4v4h-4zM482.5,118.5h4v4h-4zM483.5,124.5h4v4h-4zM483.5,124.5h4v4h-4zM483.5,119.5h4v4h-4zM483.5,117.5h4v4h-4zM484.5,117.5h4v4h-4zM484.5,124.5h4v4h-4zM484.5,122.5h4v4h-4zM485.5,123.5h4v4h-4zM485.5,125.5h4v4h-4zM485.5,120.5h4v4h-4zM485.5,127.5h4v4h-4zM486.5,121.5h4v4h-4zM486.5,125.5h4v4h-4zM486.5,124.5h4v4h-4zM487.5,128.5h4v4h-4zM487.5,123.5h4v4h-4zM487.5,123.5h4v4h-4zM488.5,122.5h4v4h-4zM488.5,122.5h4v4h-4zM488.5,122.5h4v4h-4zM489.5,119.5h4v4h-4zM489.5,118.5h4v4h-4zM489.5,117.5h4v4h-4zM489.5,127.5h4v4h-4zM490.5,126.5h4v4h-4zM490.5,122.5h4v4h-4zM490.5,118.5h4v4h-4zM491.5,123.5h4v4h-4zM491.5,122.5h4v4h-4zM491.5,129.5h4v4h-4zM491.5,122.5h4v4h-4zM492.5,124.5h4v4h-4zM492.5,121.5h4v4h-4zM492.5,123.5h4v4h-4zM493.5,122.5h4v4h-4zM493.5,123.5h4v4h-4zM493.5,125.5h4v4h-4zM494.5,120.5h4v4h-4zM494.5,121.5h4v4h-4zM494.5,123.5h4v4h-4zM495.5,121.5h4v4h-4zM495.5,118.5h4v4h-4zM495.5,118.5h4v4h-4zM495.5,117.5h4v4h-4zM496.5,120.5h4v4h-4zM496.5,118.5h4v4h-4zM497.5,123.5h4v4h-4zM497.5,120.5h4v4h-4zM497.5,118.5h4v4h-4zM498.5,122.5h4v4h-4zM498.5,119.5h4v4h-4zM499.5,119.5h4v4h-4zM500.5,117.5h4v4h-4zM500.5,122.5h4v4h-4zM500.5,118.5h4v4h-4zM500.5,118.5h4v4h-4zM501.5,120.5h4v4h-4zM502.5,119.5h4v4h-4zM502.5,127.5h4v4h-4zM502.5,120.5h4v4h-4zM503.5,129.5h4v4h-4zM503.5,116.5h4v4h-4zM503.5,122.5h4v4h-4zM504.5,120.5h4v4h-4zM504.5,126.5h4v4h-4zM504.5,128.5h4v4h-4zM505.5,128.5h4v4h-4zM505.5,124.5h4v4h-4zM505.5,128.5h4v4h-4zM506.5,122.5h4v4h-4zM506.5,126.5h4v4h-4zM506.5,126.5h4v4h-4zM507.5,127.5h4v4h-4zM507.5,120.5h4v4h-4zM508.5,123.5h4v4h-4zM508.5,124.5h4v4h-4zM508.5,119.5h4v4h-4zM509.5,125.5h4v4h-4zM509.5,119.5h4v4h-4zM509.5,123.5h4v4h-4zM510.5,123.5h4v4h-4zM510.5,127.5h4v4h-4zM510.5,121.5h4v4h-4zM510.5,120.5h4v4h-4zM511.5,121.5h4v4h-4zM511.5,123.5h4v4h-4z"/>
<rect x="230.5" y="129.5" width="4" height="4" fill="#fff"/><rect x="230.5" y="133.5" width="4" height="4" fill="#fff"/><rect x="232.5" y="131.5" width="4" height="4" fill="#fff"/><rect x="232.5" y="129.5" width="4" height="4" fill="#fff"/><rect x="241.5" y="109.5" width="4" height="4" fill="#fff"/><rect x="247.5" y="106.5" width="4" height="4" fill="#fff"/><rect x="249.5" y="109.5" width="4" height="4" fill="#fff"/><rect x="251.5" y="132.5" width="4" height="4" fill="#fff"/><rect x="254.5" y="134.5" width="4" height="4" fill="#fff"/><rect x="255.5" y="132.5" width="4" height="4" fill="#fff"/><rect x="256.5" y="130.5" width="4" height="4" fill="#fff"/><rect x="259.5" y="130.5" width="4" height="4" fill="#fff"/><rect x="259.5" y="130.5" width="4" height="4" fill="#fff"/><rect x="261.5" y="129.5" width="4" height="4" fill="#fff"/><rect x="261.5" y="135.5" width="4" height="4" fill="#fff"/><rect x="262.5" y="135.5" width="4" height="4" fill="#fff"/><rect x="262.5" y="129.5" width="4" height="4" fill="#fff"/><rect x="262.5" y="107.5" width="4" height="4" fill="#fff"/><rect x="263.5" y="131.5" width="4" height="4" fill="#fff"/><rect x="264.5" y="130.5" width="4" height="4" fill="#fff"/><rect x="265.5" y="130.5" width="4" height="4" fill="#fff"/><rect x="268.5" y="131.5" width="4" height="4" fill="#fff"/><rect x="269.5" y="129.5" width="4" height="4" fill="#fff"/><rect x="272.5" y="131.5" width="4" height="4" fill="#fff"/><rect x="277.5" y="138.5" width="4" height="4" fill="#fff"/><rect x="280.5" y="109.5" width="4" height="4" fill="#fff"/><rect x="282.5" y="107.5" width="4" height="4" fill="#fff"/><rect x="284.5" y="129.5" width="4" height="4" fill="#fff"/><rect x="291.5" y="129.5" width="4" height="4" fill="#fff"/><rect x="293.5" y="134.5" width="4" height="4" fill="#fff"/><rect x="297.5" y="131.5" width="4" height="4" fill="#fff"/><rect x="298.5" y="130.5" width="4" height="4" fill="#fff"/><rect x="300.5" y="130.5" width="4" height="4" fill="#fff"/><rect x="304.5" y="101.5" width="4" height="4" fill="#fff"/><rect x="309.5" y="130.5" width="4" height="4" fill="#fff"/><rect x="310.5" y="131.5" width="4" height="4" fill="#fff"/><rect x="319.5" y="110.5" width="4" height="4" fill="#fff"/><rect x="324.5" y="131.5" width="4" height="4" fill="#fff"/><rect x="326.5" y="134.5" width="4" height="4" fill="#fff"/><rect x="349.5" y="132.5" width="4" height="4" fill="#fff"/><rect x="350.5" y="113.5" width="4" height="4" fill="#fff"/><rect x="354.5" y="129.5" width="4" height="4" fill="#fff"/><rect x="355.5" y="131.5" width="4" height="4" fill="#fff"/><rect x="355.5" y="132.5" width="4" height="4" fill="#fff"/><rect x="358.5" y="131.5" width="4" height="4" fill="#fff"/><rect x="360.5" y="131.5" width="4" height="4" fill="#fff"/><rect x="360.5" y="130.5" width="4" height="4" fill="#fff"/><rect x="363.5" y="137.5" width="4" height="4" fill="#fff"/><rect x="367.5" y="132.5" width="4" height="4" fill="#fff"/><rect x="369.5" y="130.5" width="4" height="4" fill="#fff"/><rect x="369.5" y="131.5" width="4" height="4" fill="#fff"/><rect x="374.5" y="131.5" width="4" height="4" fill="#fff"/><rect x="376.5" y="132.5" width="4" height="4" fill="#fff"/><rect x="376.5" y="135.5" width="4" height="4" fill="#fff"/><rect x="377.5" y="131.5" width="4" height="4" fill="#fff"/><rect x="381.5" y="135.5" width="4" height="4" fill="#fff"/><rect x="381.5" y="132.5" width="4" height="4" fill="#fff"/><rect x="383.5" y="131.5" width="4" height="4" fill="#fff"/><rect x="383.5" y="130.5" width="4" height="4" fill="#fff"/><rect x="386.5" y="131.5" width="4" height="4" fill="#fff"/><rect x="387.5" y="133.5" width="4" height="4" fill="#fff"/><rect x="387.5" y="131.5" width="4" height="4" fill="#fff"/><rect x="388.5" y="133.5" width="4" height="4" fill="#fff"/><rect x="400.5" y="116.5" width="4" height="4" fill="#fff"/><rect x="401.5" y="113.5" width="4" height="4" fill="#fff"/><rect x="410.5" y="130.5" width="4" height="4" fill="#fff"/><rect x="412.5" y="131.5" width="4" height="4" fill="#fff"/><rect x="414.5" y="133.5" width="4" height="4" fill="#fff"/><rect x="415.5" y="132.5" width="4" height="4" fill="#fff"/><rect x="415.5" y="134.5" width="4" height="4" fill="#fff"/><rect x="416.5" y="131.5" width="4" height="4" fill="#fff"/><rect x="417.5" y="131.5" width="4" height="4" fill="#fff"/><rect x="420.5" y="135.5" width="4" height="4" fill="#fff"/><rect x="421.5" y="130.5" width="4" height="4" fill="#fff"/><rect x="429.5" y="114.5" width="4" height="4" fill="#fff"/><rect x="441.5" y="132.5" width="4" height="4" fill="#fff"/><rect x="444.5" y="131.5" width="4" height="4" fill="#fff"/><rect x="447.5" y="130.5" width="4" height="4" fill="#fff"/><rect x="447.5" y="140.5" width="4" height="4" fill="#fff"/><rect x="449.5" y="115.5" width="4" height="4" fill="#fff"/><rect x="454.5" y="130.5" width="4" height="4" fill="#fff"/><rect x="456.5" y="131.5" width="4" height="4" fill="#fff"/><rect x="460.5" y="140.5" width="4" height="4" fill="#fff"/><rect x="463.5" y="130.5" width="4" height="4" fill="#fff"/><rect x="464.5" y="131.5" width="4" height="4" fill="#fff"/><rect x="464.5" y="132.5" width="4" height="4" fill="#fff"/><rect x="465.5" y="132.5" width="4" height="4" fill="#fff"/><rect x="466.5" y="131.5" width="4" height="4" fill="#fff"/><rect x="468.5" y="131.5" width="4" height="4" fill="#fff"/><rect x="468.5" y="130.5" width="4" height="4" fill="#fff"/><rect x="473.5" y="113.5" width="4" height="4" fill="#fff"/><rect x="476.5" y="111.5" width="4" height="4" fill="#fff"/><rect x="476.5" y="114.5" width="4" height="4" fill="#fff"/><rect x="479.5" y="114.5" width="4" height="4" fill="#fff"/><rect x="481.5" y="116.5" width="4" height="4" fill="#fff"/><rect x="487.5" y="130.5" width="4" height="4" fill="#fff"/><rect x="493.5" y="115.5" width="4" height="4" fill="#fff"/><rect x="496.5" y="116.5" width="4" height="4" fill="#fff"/><rect x="497.5" y="116.5" width="4" height="4" fill="#fff"/><rect x="498.5" y="114.5" width="4" height="4" fill="#fff"/><rect x="498.5" y="116.5" width="4" height="4" fill="#fff"/><rect x="499.5" y="115.5" width="4" height="4" fill="#fff"/><rect x="499.5" y="114.5" width="4" height="4" fill="#fff"/><rect x="501.5" y="115.5" width="4" height="4" fill="#fff"/><rect x="501.5" y="115.5" width="4" height="4" fill="#fff"/><rect x="502.5" y="115.5" width="4" height="4" fill="#fff"/><rect x="504.5" y="130.5" width="4" height="4" fill="#fff"/><rect x="506.5" y="134.5" width="4" height="4" fill="#fff"/><rect x="507.5" y="133.5" width="4" height="4" fill="#fff"/><rect x="508.5" y="133.5" width="4" height="4" fill="#fff"/>
</g>
<rect x="524" y="107" width="149" height="17" fill="#fff"/>
<line x1="257" y1="124.5" x2="666" y2="124.5" stroke="#f00000" stroke-width="1" stroke-dasharray="9 7" shape-rendering="crispEdges"/>
<text x="318" y="18.5" font-size="16" font-weight="bold" fill="#111" textLength="47.5" lengthAdjust="spacingAndGlyphs">636(3)</text>
<text class="b" x="47.4" y="414" textLength="36" lengthAdjust="spacingAndGlyphs">0.160</text>
<text class="b" x="47.4" y="368" textLength="36" lengthAdjust="spacingAndGlyphs">0.165</text>
<text class="b" x="47.4" y="322" textLength="36" lengthAdjust="spacingAndGlyphs">0.170</text>
<text class="b" x="47.4" y="276" textLength="36" lengthAdjust="spacingAndGlyphs">0.175</text>
<text class="b" x="47.4" y="230" textLength="36" lengthAdjust="spacingAndGlyphs">0.180</text>
<text class="b" x="47.4" y="184" textLength="36" lengthAdjust="spacingAndGlyphs">0.185</text>
<text class="b" x="47.4" y="138" textLength="36" lengthAdjust="spacingAndGlyphs">0.190</text>
<text class="b" x="47.4" y="92" textLength="36" lengthAdjust="spacingAndGlyphs">0.195</text>
<text class="b" x="47.4" y="46" textLength="36" lengthAdjust="spacingAndGlyphs">0.200</text>
<text class="b" x="579" y="414" textLength="8.0" lengthAdjust="spacingAndGlyphs">3</text>
<text class="b" x="579" y="322" textLength="20.4" lengthAdjust="spacingAndGlyphs">3.5</text>
<text class="b" x="579" y="230" textLength="8.0" lengthAdjust="spacingAndGlyphs">4</text>
<text class="b" x="579" y="138" textLength="20.4" lengthAdjust="spacingAndGlyphs">4.5</text>
<text class="b" x="579" y="46" textLength="8.0" lengthAdjust="spacingAndGlyphs">5</text>
<text class="b" x="75.6" y="434" textLength="47.3" lengthAdjust="spacingAndGlyphs">360000</text>
<text class="b" x="191.1" y="434" textLength="47.3" lengthAdjust="spacingAndGlyphs">380000</text>
<text class="b" x="306.6" y="434" textLength="47.3" lengthAdjust="spacingAndGlyphs">400000</text>
<text class="b" x="422.1" y="434" textLength="47.3" lengthAdjust="spacingAndGlyphs">420000</text>
<text class="b" x="537.6" y="434" textLength="47.3" lengthAdjust="spacingAndGlyphs">440000</text>
<text x="320.2" y="463.7" font-size="14" font-weight="bold" fill="#111" textLength="45.6" lengthAdjust="spacingAndGlyphs">time, s</text>
<text transform="translate(18.3,235.6) rotate(-90)" font-size="14" fill="#111" stroke="#111" stroke-width="0.65" textLength="35.6" lengthAdjust="spacingAndGlyphs">strain</text>
<text transform="translate(638.8,179) rotate(90)" font-size="14" fill="#111" stroke="#111" stroke-width="0.65" textLength="82.7" lengthAdjust="spacingAndGlyphs">stress (MPa)</text>
<text x="122.5" y="61" font-size="15" fill="#000" textLength="68.5" lengthAdjust="spacingAndGlyphs">T = 210 K</text>
<text x="122.5" y="79" font-size="15" fill="#000" textLength="85.1" lengthAdjust="spacingAndGlyphs">P = 100 MPa</text>
<text x="527" y="119" font-size="11" fill="#333" textLength="143" lengthAdjust="spacingAndGlyphs">σ = 4.5-0.2(In)=4.3±0.3</text>
<text x="255.6" y="328" font-size="11" fill="#ee0000" textLength="219" lengthAdjust="spacing" xml:space="preserve">y = 0.083714 + 2.2519e-7x   R= 0.98039</text>
<rect x="223" y="361" width="325" height="39" fill="#fff"/>
<g font-size="10" font-style="italic" fill="#008000">
<text x="225.8" y="371" textLength="33.1" lengthAdjust="spacingAndGlyphs">Indium</text>
<text x="262.0" y="371" textLength="29.4" lengthAdjust="spacingAndGlyphs">jacket</text>
<text x="295.8" y="371" textLength="53.1" lengthAdjust="spacingAndGlyphs">correction:</text>
<text x="353.3" y="371" textLength="45.6" lengthAdjust="spacingAndGlyphs">3.5e-7/s,</text>
<text x="405.8" y="371" textLength="16.8" lengthAdjust="spacingAndGlyphs">210</text>
<text x="427.0" y="371" textLength="9.4" lengthAdjust="spacingAndGlyphs">K,</text>
<text x="442.5" y="371" textLength="8.9" lengthAdjust="spacingAndGlyphs">1"</text>
<text x="459.5" y="371" textLength="20.6" lengthAdjust="spacingAndGlyphs">diam</text>
<text x="485.0" y="371" textLength="10.1" lengthAdjust="spacingAndGlyphs">=&gt;</text>
<text x="501.5" y="371" textLength="18.6" lengthAdjust="spacingAndGlyphs">0.20</text>
<text x="525.8" y="371" textLength="19.3" lengthAdjust="spacingAndGlyphs">MPa</text>
<text x="225.8" y="384" textLength="21.8" lengthAdjust="spacingAndGlyphs">n=4,</text>
<text x="253.3" y="384" textLength="48.1" lengthAdjust="spacingAndGlyphs">2.5e-7/s,</text>
<text x="307.5" y="384" textLength="32.6" lengthAdjust="spacingAndGlyphs">indium</text>
<text x="344.5" y="384" textLength="20.6" lengthAdjust="spacingAndGlyphs">area</text>
<text x="369.5" y="384" textLength="8.1" lengthAdjust="spacingAndGlyphs">≈</text>
<text x="379.5" y="384" textLength="15.6" lengthAdjust="spacingAndGlyphs">5/4</text>
<text x="400.8" y="384" textLength="38.1" lengthAdjust="spacingAndGlyphs">nominal</text>
<text x="225.8" y="397" textLength="11.8" lengthAdjust="spacingAndGlyphs">=&gt;</text>
<text x="240.8" y="397" textLength="50.6" lengthAdjust="spacingAndGlyphs">correction</text>
<text x="295.8" y="397" textLength="6.8" lengthAdjust="spacingAndGlyphs">=</text>
<text x="306.5" y="397" textLength="13.6" lengthAdjust="spacingAndGlyphs">0.2</text>
<text x="323.3" y="397" textLength="6.8" lengthAdjust="spacingAndGlyphs">x</text>
<text x="334.5" y="397" textLength="61.6" lengthAdjust="spacingAndGlyphs">(2.5/3.5)^4</text>
<text x="399.0" y="397" textLength="6.1" lengthAdjust="spacingAndGlyphs">x</text>
<text x="410.5" y="397" textLength="20.6" lengthAdjust="spacingAndGlyphs">1.25</text>
<text x="435.5" y="397" textLength="7.1" lengthAdjust="spacingAndGlyphs">=</text>
<text x="447.0" y="397" textLength="13.1" lengthAdjust="spacingAndGlyphs">0.2</text>
<text x="465.5" y="397" textLength="22.1" lengthAdjust="spacingAndGlyphs">MPa</text>
</g>
</svg></body></html>
